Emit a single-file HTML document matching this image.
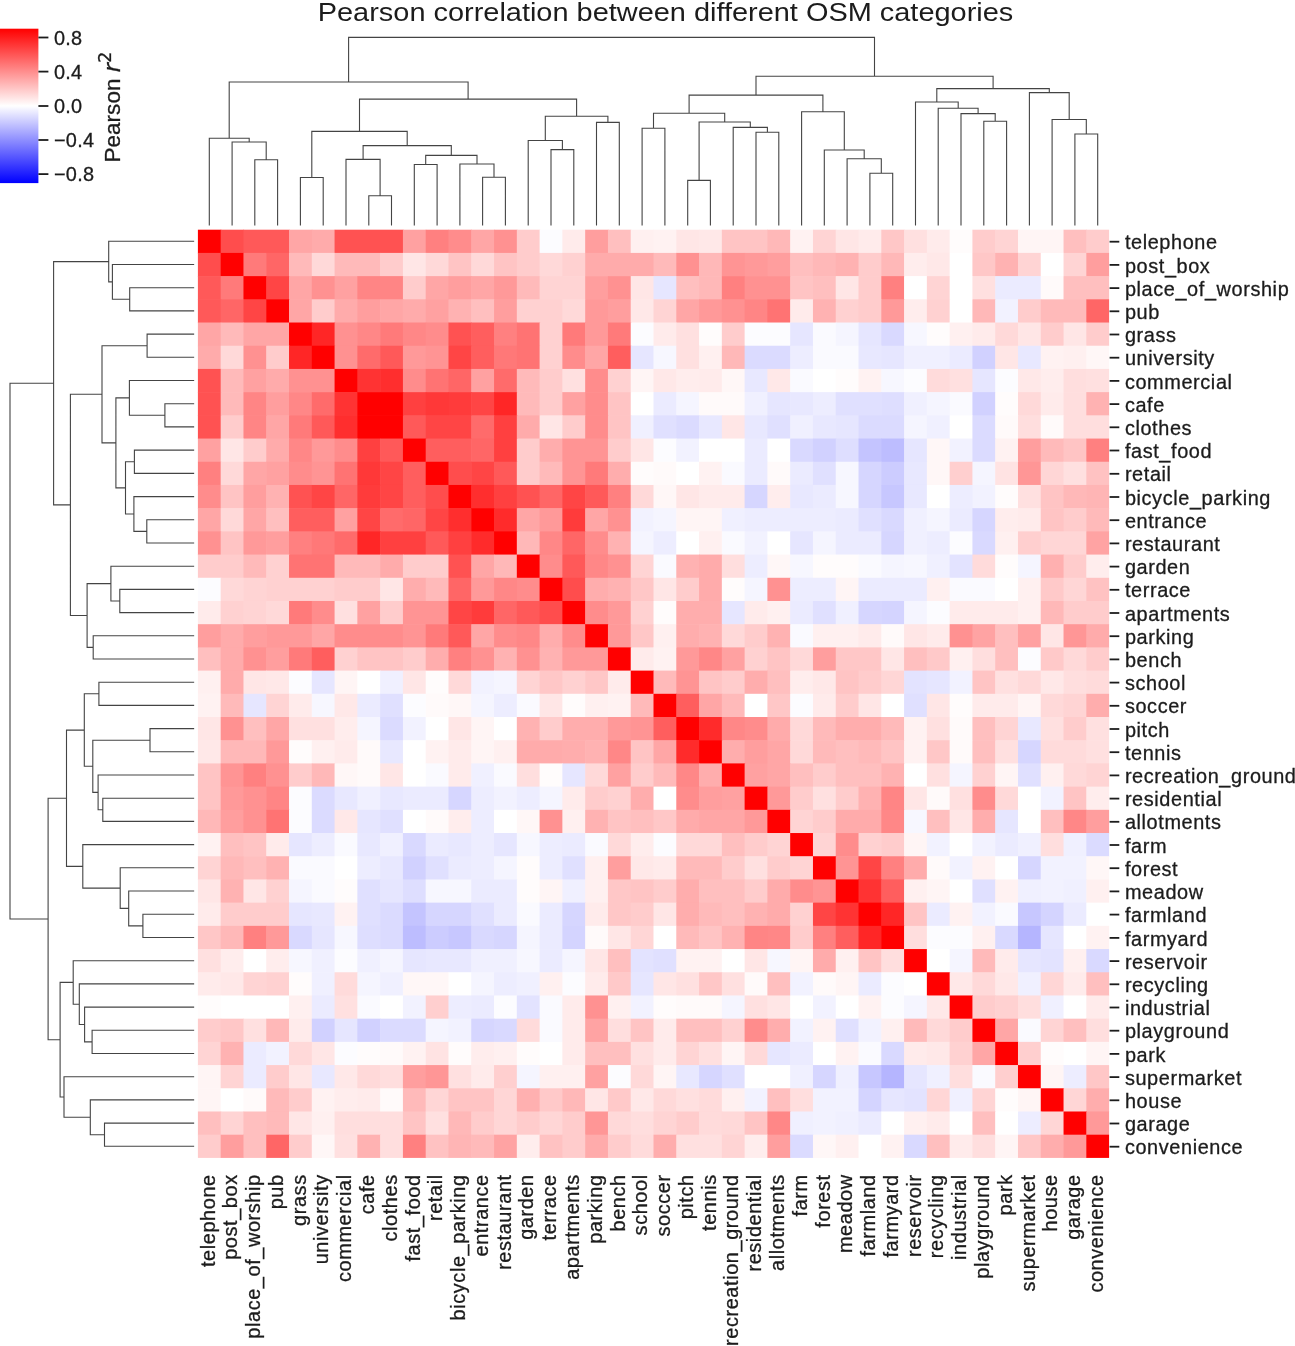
<!DOCTYPE html>
<html><head><meta charset="utf-8"><title>Pearson correlation between different OSM categories</title>
<style>html,body{margin:0;padding:0;background:#fff}svg{display:block}text{font-family:"Liberation Sans",Arial,sans-serif;fill:#1c1c1c;stroke:#1c1c1c;stroke-width:0.3px}</style></head><body>
<svg width="1295" height="1346" viewBox="0 0 1295 1346">
<rect width="1295" height="1346" fill="#fff"/>
<defs><linearGradient id="cb" x1="0" y1="0" x2="0" y2="1"><stop offset="0" stop-color="#f00"/><stop offset="0.5" stop-color="#fff"/><stop offset="1" stop-color="#00f"/></linearGradient></defs>
<text x="665.5" y="21.0" style="stroke-width:0" font-size="26.7" text-anchor="middle" textLength="695.5" lengthAdjust="spacingAndGlyphs">Pearson correlation between different OSM categories</text>
<rect x="0" y="28.7" width="38.4" height="154.4" fill="url(#cb)"/>
<g stroke="#1c1c1c" stroke-width="1.8">
<line x1="38.4" x2="48.4" y1="37.5" y2="37.5"/>
<line x1="38.4" x2="48.4" y1="71.6" y2="71.6"/>
<line x1="38.4" x2="48.4" y1="106.0" y2="106.0"/>
<line x1="38.4" x2="48.4" y1="140.0" y2="140.0"/>
<line x1="38.4" x2="48.4" y1="174.1" y2="174.1"/>
</g>
<g font-size="19.9" letter-spacing="0.25">
<text x="54" y="44.5">0.8</text>
<text x="54" y="78.6">0.4</text>
<text x="54" y="113.0">0.0</text>
<text x="54" y="147.0">−0.4</text>
<text x="54" y="181.1">−0.8</text>
</g>
<text transform="translate(119.6,162.6) rotate(-90)" font-size="22.4" letter-spacing="0.1">Pearson <tspan font-family="DejaVu Sans" font-style="italic">r</tspan><tspan font-family="DejaVu Sans" font-size="17.4" dy="-8.9">2</tspan></text>
<g>
<rect x="197.90" y="229.70" width="23.38" height="23.81" fill="#ff0000"/>
<rect x="220.68" y="229.70" width="23.38" height="23.81" fill="#ff4d4d"/>
<rect x="243.46" y="229.70" width="46.16" height="23.81" fill="#ff5959"/>
<rect x="289.02" y="229.70" width="23.38" height="23.81" fill="#ffa6a6"/>
<rect x="311.80" y="229.70" width="23.38" height="23.81" fill="#ffabab"/>
<rect x="334.58" y="229.70" width="68.94" height="23.81" fill="#ff5252"/>
<rect x="402.92" y="229.70" width="23.38" height="23.81" fill="#ffa1a1"/>
<rect x="425.70" y="229.70" width="23.38" height="23.81" fill="#ff8080"/>
<rect x="448.48" y="229.70" width="23.38" height="23.81" fill="#ff8c8c"/>
<rect x="471.26" y="229.70" width="23.38" height="23.81" fill="#ffa6a6"/>
<rect x="494.04" y="229.70" width="23.38" height="23.81" fill="#ff9191"/>
<rect x="516.82" y="229.70" width="23.38" height="23.81" fill="#ffcccc"/>
<rect x="539.60" y="229.70" width="23.38" height="23.81" fill="#fcfcff"/>
<rect x="562.38" y="229.70" width="23.38" height="23.81" fill="#ffebeb"/>
<rect x="585.16" y="229.70" width="23.38" height="23.81" fill="#ff9e9e"/>
<rect x="607.94" y="229.70" width="23.38" height="23.81" fill="#ffbfbf"/>
<rect x="630.72" y="229.70" width="23.38" height="23.81" fill="#fff0f0"/>
<rect x="653.50" y="229.70" width="23.38" height="23.81" fill="#fff2f2"/>
<rect x="676.28" y="229.70" width="23.38" height="23.81" fill="#ffe6e6"/>
<rect x="699.06" y="229.70" width="23.38" height="23.81" fill="#ffe8e8"/>
<rect x="721.84" y="229.70" width="46.16" height="23.81" fill="#ffc4c4"/>
<rect x="767.40" y="229.70" width="23.38" height="23.81" fill="#ffb8b8"/>
<rect x="790.18" y="229.70" width="23.38" height="23.81" fill="#fff2f2"/>
<rect x="812.96" y="229.70" width="23.38" height="23.81" fill="#ffd4d4"/>
<rect x="835.74" y="229.70" width="23.38" height="23.81" fill="#ffe6e6"/>
<rect x="858.52" y="229.70" width="23.38" height="23.81" fill="#ffebeb"/>
<rect x="881.30" y="229.70" width="23.38" height="23.81" fill="#ffc7c7"/>
<rect x="904.08" y="229.70" width="23.38" height="23.81" fill="#ffe0e0"/>
<rect x="926.86" y="229.70" width="23.38" height="23.81" fill="#ffebeb"/>
<rect x="949.64" y="229.70" width="23.38" height="23.81" fill="#fffcfc"/>
<rect x="972.42" y="229.70" width="23.38" height="23.81" fill="#ffcccc"/>
<rect x="995.20" y="229.70" width="23.38" height="23.81" fill="#ffd4d4"/>
<rect x="1017.98" y="229.70" width="46.16" height="23.81" fill="#fff5f5"/>
<rect x="1063.54" y="229.70" width="23.38" height="23.81" fill="#ffbfbf"/>
<rect x="1086.32" y="229.70" width="22.78" height="23.81" fill="#ffcccc"/>
<rect x="197.90" y="252.91" width="23.38" height="23.81" fill="#ff4d4d"/>
<rect x="220.68" y="252.91" width="23.38" height="23.81" fill="#ff0000"/>
<rect x="243.46" y="252.91" width="23.38" height="23.81" fill="#ff7a7a"/>
<rect x="266.24" y="252.91" width="23.38" height="23.81" fill="#ff6666"/>
<rect x="289.02" y="252.91" width="23.38" height="23.81" fill="#ffbaba"/>
<rect x="311.80" y="252.91" width="23.38" height="23.81" fill="#ffd9d9"/>
<rect x="334.58" y="252.91" width="46.16" height="23.81" fill="#ffbaba"/>
<rect x="380.14" y="252.91" width="23.38" height="23.81" fill="#ffcccc"/>
<rect x="402.92" y="252.91" width="23.38" height="23.81" fill="#ffe6e6"/>
<rect x="425.70" y="252.91" width="23.38" height="23.81" fill="#ffd9d9"/>
<rect x="448.48" y="252.91" width="23.38" height="23.81" fill="#ffc4c4"/>
<rect x="471.26" y="252.91" width="23.38" height="23.81" fill="#ffd9d9"/>
<rect x="494.04" y="252.91" width="23.38" height="23.81" fill="#ffc4c4"/>
<rect x="516.82" y="252.91" width="23.38" height="23.81" fill="#ffcccc"/>
<rect x="539.60" y="252.91" width="23.38" height="23.81" fill="#ffd9d9"/>
<rect x="562.38" y="252.91" width="23.38" height="23.81" fill="#ffd1d1"/>
<rect x="585.16" y="252.91" width="68.94" height="23.81" fill="#ffabab"/>
<rect x="653.50" y="252.91" width="23.38" height="23.81" fill="#ffbaba"/>
<rect x="676.28" y="252.91" width="23.38" height="23.81" fill="#ff9191"/>
<rect x="699.06" y="252.91" width="23.38" height="23.81" fill="#ffb8b8"/>
<rect x="721.84" y="252.91" width="23.38" height="23.81" fill="#ff9494"/>
<rect x="744.62" y="252.91" width="23.38" height="23.81" fill="#ff9999"/>
<rect x="767.40" y="252.91" width="23.38" height="23.81" fill="#ff9e9e"/>
<rect x="790.18" y="252.91" width="23.38" height="23.81" fill="#ffbfbf"/>
<rect x="812.96" y="252.91" width="23.38" height="23.81" fill="#ffb8b8"/>
<rect x="835.74" y="252.91" width="23.38" height="23.81" fill="#ffb2b2"/>
<rect x="858.52" y="252.91" width="23.38" height="23.81" fill="#ffcccc"/>
<rect x="881.30" y="252.91" width="23.38" height="23.81" fill="#ffb8b8"/>
<rect x="904.08" y="252.91" width="23.38" height="23.81" fill="#ffeded"/>
<rect x="926.86" y="252.91" width="23.38" height="23.81" fill="#ffe8e8"/>
<rect x="949.64" y="252.91" width="23.38" height="23.81" fill="#ffffff"/>
<rect x="972.42" y="252.91" width="23.38" height="23.81" fill="#ffc7c7"/>
<rect x="995.20" y="252.91" width="23.38" height="23.81" fill="#ffb2b2"/>
<rect x="1017.98" y="252.91" width="23.38" height="23.81" fill="#ffd4d4"/>
<rect x="1040.76" y="252.91" width="23.38" height="23.81" fill="#ffffff"/>
<rect x="1063.54" y="252.91" width="23.38" height="23.81" fill="#ffd4d4"/>
<rect x="1086.32" y="252.91" width="22.78" height="23.81" fill="#ff9e9e"/>
<rect x="197.90" y="276.11" width="23.38" height="23.81" fill="#ff5959"/>
<rect x="220.68" y="276.11" width="23.38" height="23.81" fill="#ff7a7a"/>
<rect x="243.46" y="276.11" width="23.38" height="23.81" fill="#ff0000"/>
<rect x="266.24" y="276.11" width="23.38" height="23.81" fill="#ff4545"/>
<rect x="289.02" y="276.11" width="23.38" height="23.81" fill="#ffa6a6"/>
<rect x="311.80" y="276.11" width="23.38" height="23.81" fill="#ff9191"/>
<rect x="334.58" y="276.11" width="23.38" height="23.81" fill="#ffa1a1"/>
<rect x="357.36" y="276.11" width="46.16" height="23.81" fill="#ff8585"/>
<rect x="402.92" y="276.11" width="23.38" height="23.81" fill="#ffcccc"/>
<rect x="425.70" y="276.11" width="23.38" height="23.81" fill="#ffa6a6"/>
<rect x="448.48" y="276.11" width="23.38" height="23.81" fill="#ff9e9e"/>
<rect x="471.26" y="276.11" width="23.38" height="23.81" fill="#ffa6a6"/>
<rect x="494.04" y="276.11" width="23.38" height="23.81" fill="#ff9999"/>
<rect x="516.82" y="276.11" width="23.38" height="23.81" fill="#ffbaba"/>
<rect x="539.60" y="276.11" width="46.16" height="23.81" fill="#ffd4d4"/>
<rect x="585.16" y="276.11" width="23.38" height="23.81" fill="#ff9e9e"/>
<rect x="607.94" y="276.11" width="23.38" height="23.81" fill="#ff9191"/>
<rect x="630.72" y="276.11" width="23.38" height="23.81" fill="#ffe6e6"/>
<rect x="653.50" y="276.11" width="23.38" height="23.81" fill="#e6e6ff"/>
<rect x="676.28" y="276.11" width="23.38" height="23.81" fill="#ffbfbf"/>
<rect x="699.06" y="276.11" width="23.38" height="23.81" fill="#ffb8b8"/>
<rect x="721.84" y="276.11" width="23.38" height="23.81" fill="#ff8080"/>
<rect x="744.62" y="276.11" width="46.16" height="23.81" fill="#ff9191"/>
<rect x="790.18" y="276.11" width="23.38" height="23.81" fill="#ffc4c4"/>
<rect x="812.96" y="276.11" width="23.38" height="23.81" fill="#ffbfbf"/>
<rect x="835.74" y="276.11" width="23.38" height="23.81" fill="#ffe6e6"/>
<rect x="858.52" y="276.11" width="23.38" height="23.81" fill="#ffcccc"/>
<rect x="881.30" y="276.11" width="23.38" height="23.81" fill="#ff8080"/>
<rect x="904.08" y="276.11" width="23.38" height="23.81" fill="#ffffff"/>
<rect x="926.86" y="276.11" width="23.38" height="23.81" fill="#ffd4d4"/>
<rect x="949.64" y="276.11" width="23.38" height="23.81" fill="#ffffff"/>
<rect x="972.42" y="276.11" width="23.38" height="23.81" fill="#ffe0e0"/>
<rect x="995.20" y="276.11" width="46.16" height="23.81" fill="#ebebff"/>
<rect x="1040.76" y="276.11" width="23.38" height="23.81" fill="#fffafa"/>
<rect x="1063.54" y="276.11" width="45.56" height="23.81" fill="#ffbfbf"/>
<rect x="197.90" y="299.31" width="23.38" height="23.81" fill="#ff5959"/>
<rect x="220.68" y="299.31" width="23.38" height="23.81" fill="#ff6666"/>
<rect x="243.46" y="299.31" width="23.38" height="23.81" fill="#ff4545"/>
<rect x="266.24" y="299.31" width="23.38" height="23.81" fill="#ff0000"/>
<rect x="289.02" y="299.31" width="23.38" height="23.81" fill="#ffa6a6"/>
<rect x="311.80" y="299.31" width="23.38" height="23.81" fill="#ffcccc"/>
<rect x="334.58" y="299.31" width="23.38" height="23.81" fill="#ffabab"/>
<rect x="357.36" y="299.31" width="23.38" height="23.81" fill="#ff9e9e"/>
<rect x="380.14" y="299.31" width="23.38" height="23.81" fill="#ffa6a6"/>
<rect x="402.92" y="299.31" width="23.38" height="23.81" fill="#ffabab"/>
<rect x="425.70" y="299.31" width="23.38" height="23.81" fill="#ffa1a1"/>
<rect x="448.48" y="299.31" width="23.38" height="23.81" fill="#ffb2b2"/>
<rect x="471.26" y="299.31" width="23.38" height="23.81" fill="#ffbfbf"/>
<rect x="494.04" y="299.31" width="23.38" height="23.81" fill="#ff9e9e"/>
<rect x="516.82" y="299.31" width="46.16" height="23.81" fill="#ffd1d1"/>
<rect x="562.38" y="299.31" width="23.38" height="23.81" fill="#ffd9d9"/>
<rect x="585.16" y="299.31" width="23.38" height="23.81" fill="#ff9999"/>
<rect x="607.94" y="299.31" width="23.38" height="23.81" fill="#ff9e9e"/>
<rect x="630.72" y="299.31" width="23.38" height="23.81" fill="#ffe8e8"/>
<rect x="653.50" y="299.31" width="23.38" height="23.81" fill="#ffd4d4"/>
<rect x="676.28" y="299.31" width="23.38" height="23.81" fill="#ffa6a6"/>
<rect x="699.06" y="299.31" width="23.38" height="23.81" fill="#ff9999"/>
<rect x="721.84" y="299.31" width="23.38" height="23.81" fill="#ff9191"/>
<rect x="744.62" y="299.31" width="23.38" height="23.81" fill="#ff8585"/>
<rect x="767.40" y="299.31" width="23.38" height="23.81" fill="#ff7373"/>
<rect x="790.18" y="299.31" width="23.38" height="23.81" fill="#ffebeb"/>
<rect x="812.96" y="299.31" width="23.38" height="23.81" fill="#ffb2b2"/>
<rect x="835.74" y="299.31" width="23.38" height="23.81" fill="#ffd1d1"/>
<rect x="858.52" y="299.31" width="23.38" height="23.81" fill="#ffcccc"/>
<rect x="881.30" y="299.31" width="23.38" height="23.81" fill="#ff9999"/>
<rect x="904.08" y="299.31" width="23.38" height="23.81" fill="#ffeded"/>
<rect x="926.86" y="299.31" width="23.38" height="23.81" fill="#ffd1d1"/>
<rect x="949.64" y="299.31" width="23.38" height="23.81" fill="#ffffff"/>
<rect x="972.42" y="299.31" width="23.38" height="23.81" fill="#ffb8b8"/>
<rect x="995.20" y="299.31" width="23.38" height="23.81" fill="#f2f2ff"/>
<rect x="1017.98" y="299.31" width="23.38" height="23.81" fill="#ffcccc"/>
<rect x="1040.76" y="299.31" width="46.16" height="23.81" fill="#ffbaba"/>
<rect x="1086.32" y="299.31" width="22.78" height="23.81" fill="#ff6666"/>
<rect x="197.90" y="322.52" width="23.38" height="23.81" fill="#ffa6a6"/>
<rect x="220.68" y="322.52" width="23.38" height="23.81" fill="#ffbaba"/>
<rect x="243.46" y="322.52" width="46.16" height="23.81" fill="#ffa6a6"/>
<rect x="289.02" y="322.52" width="23.38" height="23.81" fill="#ff0000"/>
<rect x="311.80" y="322.52" width="23.38" height="23.81" fill="#ff2626"/>
<rect x="334.58" y="322.52" width="23.38" height="23.81" fill="#ff9191"/>
<rect x="357.36" y="322.52" width="23.38" height="23.81" fill="#ff8787"/>
<rect x="380.14" y="322.52" width="23.38" height="23.81" fill="#ff7a7a"/>
<rect x="402.92" y="322.52" width="23.38" height="23.81" fill="#ff8787"/>
<rect x="425.70" y="322.52" width="23.38" height="23.81" fill="#ff8c8c"/>
<rect x="448.48" y="322.52" width="23.38" height="23.81" fill="#ff5252"/>
<rect x="471.26" y="322.52" width="23.38" height="23.81" fill="#ff5e5e"/>
<rect x="494.04" y="322.52" width="23.38" height="23.81" fill="#ff8080"/>
<rect x="516.82" y="322.52" width="23.38" height="23.81" fill="#ff7373"/>
<rect x="539.60" y="322.52" width="23.38" height="23.81" fill="#ffd1d1"/>
<rect x="562.38" y="322.52" width="23.38" height="23.81" fill="#ff7a7a"/>
<rect x="585.16" y="322.52" width="23.38" height="23.81" fill="#ff9999"/>
<rect x="607.94" y="322.52" width="23.38" height="23.81" fill="#ff7a7a"/>
<rect x="630.72" y="322.52" width="23.38" height="23.81" fill="#fcfcff"/>
<rect x="653.50" y="322.52" width="23.38" height="23.81" fill="#ffebeb"/>
<rect x="676.28" y="322.52" width="23.38" height="23.81" fill="#ffe0e0"/>
<rect x="699.06" y="322.52" width="23.38" height="23.81" fill="#fffcfc"/>
<rect x="721.84" y="322.52" width="23.38" height="23.81" fill="#ffcccc"/>
<rect x="744.62" y="322.52" width="46.16" height="23.81" fill="#fcfcff"/>
<rect x="790.18" y="322.52" width="23.38" height="23.81" fill="#e6e6ff"/>
<rect x="812.96" y="322.52" width="23.38" height="23.81" fill="#fafaff"/>
<rect x="835.74" y="322.52" width="23.38" height="23.81" fill="#f5f5ff"/>
<rect x="858.52" y="322.52" width="23.38" height="23.81" fill="#e6e6ff"/>
<rect x="881.30" y="322.52" width="23.38" height="23.81" fill="#d9d9ff"/>
<rect x="904.08" y="322.52" width="23.38" height="23.81" fill="#f7f7ff"/>
<rect x="926.86" y="322.52" width="23.38" height="23.81" fill="#fffcfc"/>
<rect x="949.64" y="322.52" width="23.38" height="23.81" fill="#fff0f0"/>
<rect x="972.42" y="322.52" width="23.38" height="23.81" fill="#ffebeb"/>
<rect x="995.20" y="322.52" width="23.38" height="23.81" fill="#ffd9d9"/>
<rect x="1017.98" y="322.52" width="23.38" height="23.81" fill="#ffe6e6"/>
<rect x="1040.76" y="322.52" width="23.38" height="23.81" fill="#ffcccc"/>
<rect x="1063.54" y="322.52" width="23.38" height="23.81" fill="#ffe6e6"/>
<rect x="1086.32" y="322.52" width="22.78" height="23.81" fill="#ffcccc"/>
<rect x="197.90" y="345.73" width="23.38" height="23.81" fill="#ffabab"/>
<rect x="220.68" y="345.73" width="23.38" height="23.81" fill="#ffd9d9"/>
<rect x="243.46" y="345.73" width="23.38" height="23.81" fill="#ff9191"/>
<rect x="266.24" y="345.73" width="23.38" height="23.81" fill="#ffcccc"/>
<rect x="289.02" y="345.73" width="23.38" height="23.81" fill="#ff2626"/>
<rect x="311.80" y="345.73" width="23.38" height="23.81" fill="#ff0000"/>
<rect x="334.58" y="345.73" width="23.38" height="23.81" fill="#ff9191"/>
<rect x="357.36" y="345.73" width="23.38" height="23.81" fill="#ff6b6b"/>
<rect x="380.14" y="345.73" width="23.38" height="23.81" fill="#ff5959"/>
<rect x="402.92" y="345.73" width="23.38" height="23.81" fill="#ff9999"/>
<rect x="425.70" y="345.73" width="23.38" height="23.81" fill="#ff9494"/>
<rect x="448.48" y="345.73" width="23.38" height="23.81" fill="#ff4545"/>
<rect x="471.26" y="345.73" width="23.38" height="23.81" fill="#ff5e5e"/>
<rect x="494.04" y="345.73" width="23.38" height="23.81" fill="#ff7878"/>
<rect x="516.82" y="345.73" width="23.38" height="23.81" fill="#ff7373"/>
<rect x="539.60" y="345.73" width="23.38" height="23.81" fill="#ffd1d1"/>
<rect x="562.38" y="345.73" width="23.38" height="23.81" fill="#ff8c8c"/>
<rect x="585.16" y="345.73" width="23.38" height="23.81" fill="#ffa6a6"/>
<rect x="607.94" y="345.73" width="23.38" height="23.81" fill="#ff5e5e"/>
<rect x="630.72" y="345.73" width="23.38" height="23.81" fill="#e6e6ff"/>
<rect x="653.50" y="345.73" width="23.38" height="23.81" fill="#f7f7ff"/>
<rect x="676.28" y="345.73" width="23.38" height="23.81" fill="#ffe0e0"/>
<rect x="699.06" y="345.73" width="23.38" height="23.81" fill="#fff0f0"/>
<rect x="721.84" y="345.73" width="23.38" height="23.81" fill="#ffb8b8"/>
<rect x="744.62" y="345.73" width="46.16" height="23.81" fill="#dbdbff"/>
<rect x="790.18" y="345.73" width="23.38" height="23.81" fill="#ededff"/>
<rect x="812.96" y="345.73" width="46.16" height="23.81" fill="#fafaff"/>
<rect x="858.52" y="345.73" width="23.38" height="23.81" fill="#e8e8ff"/>
<rect x="881.30" y="345.73" width="23.38" height="23.81" fill="#e6e6ff"/>
<rect x="904.08" y="345.73" width="46.16" height="23.81" fill="#f0f0ff"/>
<rect x="949.64" y="345.73" width="23.38" height="23.81" fill="#ebebff"/>
<rect x="972.42" y="345.73" width="23.38" height="23.81" fill="#d1d1ff"/>
<rect x="995.20" y="345.73" width="23.38" height="23.81" fill="#ffe6e6"/>
<rect x="1017.98" y="345.73" width="23.38" height="23.81" fill="#e8e8ff"/>
<rect x="1040.76" y="345.73" width="23.38" height="23.81" fill="#fff2f2"/>
<rect x="1063.54" y="345.73" width="23.38" height="23.81" fill="#fff0f0"/>
<rect x="1086.32" y="345.73" width="22.78" height="23.81" fill="#fff7f7"/>
<rect x="197.90" y="368.93" width="23.38" height="23.81" fill="#ff5252"/>
<rect x="220.68" y="368.93" width="23.38" height="23.81" fill="#ffbaba"/>
<rect x="243.46" y="368.93" width="23.38" height="23.81" fill="#ffa1a1"/>
<rect x="266.24" y="368.93" width="23.38" height="23.81" fill="#ffabab"/>
<rect x="289.02" y="368.93" width="46.16" height="23.81" fill="#ff9191"/>
<rect x="334.58" y="368.93" width="23.38" height="23.81" fill="#ff0000"/>
<rect x="357.36" y="368.93" width="23.38" height="23.81" fill="#ff3333"/>
<rect x="380.14" y="368.93" width="23.38" height="23.81" fill="#ff2e2e"/>
<rect x="402.92" y="368.93" width="23.38" height="23.81" fill="#ff8c8c"/>
<rect x="425.70" y="368.93" width="23.38" height="23.81" fill="#ff7373"/>
<rect x="448.48" y="368.93" width="23.38" height="23.81" fill="#ff6666"/>
<rect x="471.26" y="368.93" width="23.38" height="23.81" fill="#ffa1a1"/>
<rect x="494.04" y="368.93" width="23.38" height="23.81" fill="#ff6b6b"/>
<rect x="516.82" y="368.93" width="23.38" height="23.81" fill="#ffbaba"/>
<rect x="539.60" y="368.93" width="23.38" height="23.81" fill="#ffcccc"/>
<rect x="562.38" y="368.93" width="23.38" height="23.81" fill="#ffe0e0"/>
<rect x="585.16" y="368.93" width="23.38" height="23.81" fill="#ff8c8c"/>
<rect x="607.94" y="368.93" width="23.38" height="23.81" fill="#ffd1d1"/>
<rect x="630.72" y="368.93" width="23.38" height="23.81" fill="#fff5f5"/>
<rect x="653.50" y="368.93" width="23.38" height="23.81" fill="#ffe8e8"/>
<rect x="676.28" y="368.93" width="23.38" height="23.81" fill="#ffeded"/>
<rect x="699.06" y="368.93" width="23.38" height="23.81" fill="#ffebeb"/>
<rect x="721.84" y="368.93" width="23.38" height="23.81" fill="#fff7f7"/>
<rect x="744.62" y="368.93" width="23.38" height="23.81" fill="#e8e8ff"/>
<rect x="767.40" y="368.93" width="23.38" height="23.81" fill="#ffe8e8"/>
<rect x="790.18" y="368.93" width="23.38" height="23.81" fill="#fafaff"/>
<rect x="812.96" y="368.93" width="23.38" height="23.81" fill="#ffffff"/>
<rect x="835.74" y="368.93" width="23.38" height="23.81" fill="#fffcfc"/>
<rect x="858.52" y="368.93" width="23.38" height="23.81" fill="#fff2f2"/>
<rect x="881.30" y="368.93" width="23.38" height="23.81" fill="#f7f7ff"/>
<rect x="904.08" y="368.93" width="23.38" height="23.81" fill="#fcfcff"/>
<rect x="926.86" y="368.93" width="23.38" height="23.81" fill="#ffdbdb"/>
<rect x="949.64" y="368.93" width="23.38" height="23.81" fill="#ffe0e0"/>
<rect x="972.42" y="368.93" width="23.38" height="23.81" fill="#e6e6ff"/>
<rect x="995.20" y="368.93" width="23.38" height="23.81" fill="#fcfcff"/>
<rect x="1017.98" y="368.93" width="23.38" height="23.81" fill="#ffe8e8"/>
<rect x="1040.76" y="368.93" width="23.38" height="23.81" fill="#ffeded"/>
<rect x="1063.54" y="368.93" width="23.38" height="23.81" fill="#ffdede"/>
<rect x="1086.32" y="368.93" width="22.78" height="23.81" fill="#ffe0e0"/>
<rect x="197.90" y="392.13" width="23.38" height="23.81" fill="#ff5252"/>
<rect x="220.68" y="392.13" width="23.38" height="23.81" fill="#ffbaba"/>
<rect x="243.46" y="392.13" width="23.38" height="23.81" fill="#ff8585"/>
<rect x="266.24" y="392.13" width="23.38" height="23.81" fill="#ff9e9e"/>
<rect x="289.02" y="392.13" width="23.38" height="23.81" fill="#ff8787"/>
<rect x="311.80" y="392.13" width="23.38" height="23.81" fill="#ff6b6b"/>
<rect x="334.58" y="392.13" width="23.38" height="23.81" fill="#ff3333"/>
<rect x="357.36" y="392.13" width="46.16" height="23.81" fill="#ff0000"/>
<rect x="402.92" y="392.13" width="23.38" height="23.81" fill="#ff4040"/>
<rect x="425.70" y="392.13" width="23.38" height="23.81" fill="#ff3838"/>
<rect x="448.48" y="392.13" width="23.38" height="23.81" fill="#ff3b3b"/>
<rect x="471.26" y="392.13" width="23.38" height="23.81" fill="#ff4545"/>
<rect x="494.04" y="392.13" width="23.38" height="23.81" fill="#ff2626"/>
<rect x="516.82" y="392.13" width="23.38" height="23.81" fill="#ffbaba"/>
<rect x="539.60" y="392.13" width="23.38" height="23.81" fill="#ffcccc"/>
<rect x="562.38" y="392.13" width="23.38" height="23.81" fill="#ffa1a1"/>
<rect x="585.16" y="392.13" width="23.38" height="23.81" fill="#ff8c8c"/>
<rect x="607.94" y="392.13" width="23.38" height="23.81" fill="#ffc4c4"/>
<rect x="630.72" y="392.13" width="23.38" height="23.81" fill="#ffffff"/>
<rect x="653.50" y="392.13" width="23.38" height="23.81" fill="#ebebff"/>
<rect x="676.28" y="392.13" width="23.38" height="23.81" fill="#f5f5ff"/>
<rect x="699.06" y="392.13" width="46.16" height="23.81" fill="#fffafa"/>
<rect x="744.62" y="392.13" width="23.38" height="23.81" fill="#f0f0ff"/>
<rect x="767.40" y="392.13" width="23.38" height="23.81" fill="#e6e6ff"/>
<rect x="790.18" y="392.13" width="23.38" height="23.81" fill="#e8e8ff"/>
<rect x="812.96" y="392.13" width="23.38" height="23.81" fill="#ededff"/>
<rect x="835.74" y="392.13" width="46.16" height="23.81" fill="#e0e0ff"/>
<rect x="881.30" y="392.13" width="23.38" height="23.81" fill="#dedeff"/>
<rect x="904.08" y="392.13" width="23.38" height="23.81" fill="#f0f0ff"/>
<rect x="926.86" y="392.13" width="23.38" height="23.81" fill="#f5f5ff"/>
<rect x="949.64" y="392.13" width="23.38" height="23.81" fill="#fafaff"/>
<rect x="972.42" y="392.13" width="23.38" height="23.81" fill="#d1d1ff"/>
<rect x="995.20" y="392.13" width="23.38" height="23.81" fill="#fffcfc"/>
<rect x="1017.98" y="392.13" width="23.38" height="23.81" fill="#ffd9d9"/>
<rect x="1040.76" y="392.13" width="23.38" height="23.81" fill="#ffebeb"/>
<rect x="1063.54" y="392.13" width="23.38" height="23.81" fill="#ffdede"/>
<rect x="1086.32" y="392.13" width="22.78" height="23.81" fill="#ffb2b2"/>
<rect x="197.90" y="415.34" width="23.38" height="23.81" fill="#ff5252"/>
<rect x="220.68" y="415.34" width="23.38" height="23.81" fill="#ffcccc"/>
<rect x="243.46" y="415.34" width="23.38" height="23.81" fill="#ff8585"/>
<rect x="266.24" y="415.34" width="23.38" height="23.81" fill="#ffa6a6"/>
<rect x="289.02" y="415.34" width="23.38" height="23.81" fill="#ff7a7a"/>
<rect x="311.80" y="415.34" width="23.38" height="23.81" fill="#ff5959"/>
<rect x="334.58" y="415.34" width="23.38" height="23.81" fill="#ff2e2e"/>
<rect x="357.36" y="415.34" width="46.16" height="23.81" fill="#ff0000"/>
<rect x="402.92" y="415.34" width="23.38" height="23.81" fill="#ff5959"/>
<rect x="425.70" y="415.34" width="46.16" height="23.81" fill="#ff4545"/>
<rect x="471.26" y="415.34" width="23.38" height="23.81" fill="#ff6b6b"/>
<rect x="494.04" y="415.34" width="23.38" height="23.81" fill="#ff4040"/>
<rect x="516.82" y="415.34" width="23.38" height="23.81" fill="#ffabab"/>
<rect x="539.60" y="415.34" width="23.38" height="23.81" fill="#ffe6e6"/>
<rect x="562.38" y="415.34" width="23.38" height="23.81" fill="#ffcccc"/>
<rect x="585.16" y="415.34" width="23.38" height="23.81" fill="#ff8c8c"/>
<rect x="607.94" y="415.34" width="23.38" height="23.81" fill="#ffc4c4"/>
<rect x="630.72" y="415.34" width="23.38" height="23.81" fill="#f0f0ff"/>
<rect x="653.50" y="415.34" width="23.38" height="23.81" fill="#e0e0ff"/>
<rect x="676.28" y="415.34" width="23.38" height="23.81" fill="#dbdbff"/>
<rect x="699.06" y="415.34" width="23.38" height="23.81" fill="#e8e8ff"/>
<rect x="721.84" y="415.34" width="23.38" height="23.81" fill="#ffe6e6"/>
<rect x="744.62" y="415.34" width="23.38" height="23.81" fill="#e8e8ff"/>
<rect x="767.40" y="415.34" width="23.38" height="23.81" fill="#e0e0ff"/>
<rect x="790.18" y="415.34" width="23.38" height="23.81" fill="#f0f0ff"/>
<rect x="812.96" y="415.34" width="23.38" height="23.81" fill="#e8e8ff"/>
<rect x="835.74" y="415.34" width="23.38" height="23.81" fill="#e6e6ff"/>
<rect x="858.52" y="415.34" width="46.16" height="23.81" fill="#dbdbff"/>
<rect x="904.08" y="415.34" width="23.38" height="23.81" fill="#f5f5ff"/>
<rect x="926.86" y="415.34" width="23.38" height="23.81" fill="#f0f0ff"/>
<rect x="949.64" y="415.34" width="23.38" height="23.81" fill="#ffffff"/>
<rect x="972.42" y="415.34" width="23.38" height="23.81" fill="#dbdbff"/>
<rect x="995.20" y="415.34" width="23.38" height="23.81" fill="#fffafa"/>
<rect x="1017.98" y="415.34" width="23.38" height="23.81" fill="#ffdede"/>
<rect x="1040.76" y="415.34" width="23.38" height="23.81" fill="#fffafa"/>
<rect x="1063.54" y="415.34" width="45.56" height="23.81" fill="#ffdede"/>
<rect x="197.90" y="438.55" width="23.38" height="23.81" fill="#ffa1a1"/>
<rect x="220.68" y="438.55" width="23.38" height="23.81" fill="#ffe6e6"/>
<rect x="243.46" y="438.55" width="23.38" height="23.81" fill="#ffcccc"/>
<rect x="266.24" y="438.55" width="23.38" height="23.81" fill="#ffabab"/>
<rect x="289.02" y="438.55" width="23.38" height="23.81" fill="#ff8787"/>
<rect x="311.80" y="438.55" width="23.38" height="23.81" fill="#ff9999"/>
<rect x="334.58" y="438.55" width="23.38" height="23.81" fill="#ff8c8c"/>
<rect x="357.36" y="438.55" width="23.38" height="23.81" fill="#ff4040"/>
<rect x="380.14" y="438.55" width="23.38" height="23.81" fill="#ff5959"/>
<rect x="402.92" y="438.55" width="23.38" height="23.81" fill="#ff0000"/>
<rect x="425.70" y="438.55" width="46.16" height="23.81" fill="#ff5e5e"/>
<rect x="471.26" y="438.55" width="23.38" height="23.81" fill="#ff6666"/>
<rect x="494.04" y="438.55" width="23.38" height="23.81" fill="#ff4040"/>
<rect x="516.82" y="438.55" width="23.38" height="23.81" fill="#ffcccc"/>
<rect x="539.60" y="438.55" width="23.38" height="23.81" fill="#ffadad"/>
<rect x="562.38" y="438.55" width="46.16" height="23.81" fill="#ff9494"/>
<rect x="607.94" y="438.55" width="23.38" height="23.81" fill="#ffcccc"/>
<rect x="630.72" y="438.55" width="23.38" height="23.81" fill="#ffe6e6"/>
<rect x="653.50" y="438.55" width="23.38" height="23.81" fill="#fcfcff"/>
<rect x="676.28" y="438.55" width="23.38" height="23.81" fill="#f2f2ff"/>
<rect x="699.06" y="438.55" width="46.16" height="23.81" fill="#ffffff"/>
<rect x="744.62" y="438.55" width="23.38" height="23.81" fill="#ebebff"/>
<rect x="767.40" y="438.55" width="23.38" height="23.81" fill="#ffffff"/>
<rect x="790.18" y="438.55" width="23.38" height="23.81" fill="#d9d9ff"/>
<rect x="812.96" y="438.55" width="23.38" height="23.81" fill="#d1d1ff"/>
<rect x="835.74" y="438.55" width="23.38" height="23.81" fill="#dedeff"/>
<rect x="858.52" y="438.55" width="23.38" height="23.81" fill="#c4c4ff"/>
<rect x="881.30" y="438.55" width="23.38" height="23.81" fill="#bdbdff"/>
<rect x="904.08" y="438.55" width="23.38" height="23.81" fill="#e6e6ff"/>
<rect x="926.86" y="438.55" width="23.38" height="23.81" fill="#fff7f7"/>
<rect x="949.64" y="438.55" width="23.38" height="23.81" fill="#f2f2ff"/>
<rect x="972.42" y="438.55" width="23.38" height="23.81" fill="#dbdbff"/>
<rect x="995.20" y="438.55" width="23.38" height="23.81" fill="#fff2f2"/>
<rect x="1017.98" y="438.55" width="23.38" height="23.81" fill="#ff9e9e"/>
<rect x="1040.76" y="438.55" width="23.38" height="23.81" fill="#ffbaba"/>
<rect x="1063.54" y="438.55" width="23.38" height="23.81" fill="#ffc4c4"/>
<rect x="1086.32" y="438.55" width="22.78" height="23.81" fill="#ff8080"/>
<rect x="197.90" y="461.75" width="23.38" height="23.81" fill="#ff8080"/>
<rect x="220.68" y="461.75" width="23.38" height="23.81" fill="#ffd9d9"/>
<rect x="243.46" y="461.75" width="23.38" height="23.81" fill="#ffa6a6"/>
<rect x="266.24" y="461.75" width="23.38" height="23.81" fill="#ffa1a1"/>
<rect x="289.02" y="461.75" width="23.38" height="23.81" fill="#ff8c8c"/>
<rect x="311.80" y="461.75" width="23.38" height="23.81" fill="#ff9494"/>
<rect x="334.58" y="461.75" width="23.38" height="23.81" fill="#ff7373"/>
<rect x="357.36" y="461.75" width="23.38" height="23.81" fill="#ff3838"/>
<rect x="380.14" y="461.75" width="23.38" height="23.81" fill="#ff4545"/>
<rect x="402.92" y="461.75" width="23.38" height="23.81" fill="#ff5e5e"/>
<rect x="425.70" y="461.75" width="23.38" height="23.81" fill="#ff0000"/>
<rect x="448.48" y="461.75" width="23.38" height="23.81" fill="#ff4d4d"/>
<rect x="471.26" y="461.75" width="23.38" height="23.81" fill="#ff4545"/>
<rect x="494.04" y="461.75" width="23.38" height="23.81" fill="#ff5959"/>
<rect x="516.82" y="461.75" width="23.38" height="23.81" fill="#ffcccc"/>
<rect x="539.60" y="461.75" width="23.38" height="23.81" fill="#ffbaba"/>
<rect x="562.38" y="461.75" width="23.38" height="23.81" fill="#ff9494"/>
<rect x="585.16" y="461.75" width="23.38" height="23.81" fill="#ff7a7a"/>
<rect x="607.94" y="461.75" width="23.38" height="23.81" fill="#ffadad"/>
<rect x="630.72" y="461.75" width="23.38" height="23.81" fill="#fffcfc"/>
<rect x="653.50" y="461.75" width="23.38" height="23.81" fill="#fffafa"/>
<rect x="676.28" y="461.75" width="23.38" height="23.81" fill="#ffffff"/>
<rect x="699.06" y="461.75" width="23.38" height="23.81" fill="#fff2f2"/>
<rect x="721.84" y="461.75" width="23.38" height="23.81" fill="#fafaff"/>
<rect x="744.62" y="461.75" width="23.38" height="23.81" fill="#ebebff"/>
<rect x="767.40" y="461.75" width="23.38" height="23.81" fill="#fffafa"/>
<rect x="790.18" y="461.75" width="23.38" height="23.81" fill="#ebebff"/>
<rect x="812.96" y="461.75" width="23.38" height="23.81" fill="#e0e0ff"/>
<rect x="835.74" y="461.75" width="23.38" height="23.81" fill="#f7f7ff"/>
<rect x="858.52" y="461.75" width="23.38" height="23.81" fill="#d6d6ff"/>
<rect x="881.30" y="461.75" width="23.38" height="23.81" fill="#ccccff"/>
<rect x="904.08" y="461.75" width="23.38" height="23.81" fill="#e8e8ff"/>
<rect x="926.86" y="461.75" width="23.38" height="23.81" fill="#fff7f7"/>
<rect x="949.64" y="461.75" width="23.38" height="23.81" fill="#ffcfcf"/>
<rect x="972.42" y="461.75" width="23.38" height="23.81" fill="#f5f5ff"/>
<rect x="995.20" y="461.75" width="23.38" height="23.81" fill="#ffe3e3"/>
<rect x="1017.98" y="461.75" width="23.38" height="23.81" fill="#ff9696"/>
<rect x="1040.76" y="461.75" width="23.38" height="23.81" fill="#ffd6d6"/>
<rect x="1063.54" y="461.75" width="23.38" height="23.81" fill="#ffe0e0"/>
<rect x="1086.32" y="461.75" width="22.78" height="23.81" fill="#ffc2c2"/>
<rect x="197.90" y="484.96" width="23.38" height="23.81" fill="#ff8c8c"/>
<rect x="220.68" y="484.96" width="23.38" height="23.81" fill="#ffc4c4"/>
<rect x="243.46" y="484.96" width="23.38" height="23.81" fill="#ff9e9e"/>
<rect x="266.24" y="484.96" width="23.38" height="23.81" fill="#ffb2b2"/>
<rect x="289.02" y="484.96" width="23.38" height="23.81" fill="#ff5252"/>
<rect x="311.80" y="484.96" width="23.38" height="23.81" fill="#ff4545"/>
<rect x="334.58" y="484.96" width="23.38" height="23.81" fill="#ff6666"/>
<rect x="357.36" y="484.96" width="23.38" height="23.81" fill="#ff3b3b"/>
<rect x="380.14" y="484.96" width="23.38" height="23.81" fill="#ff4545"/>
<rect x="402.92" y="484.96" width="23.38" height="23.81" fill="#ff5e5e"/>
<rect x="425.70" y="484.96" width="23.38" height="23.81" fill="#ff4d4d"/>
<rect x="448.48" y="484.96" width="23.38" height="23.81" fill="#ff0000"/>
<rect x="471.26" y="484.96" width="23.38" height="23.81" fill="#ff2e2e"/>
<rect x="494.04" y="484.96" width="23.38" height="23.81" fill="#ff4040"/>
<rect x="516.82" y="484.96" width="23.38" height="23.81" fill="#ff5252"/>
<rect x="539.60" y="484.96" width="23.38" height="23.81" fill="#ff6666"/>
<rect x="562.38" y="484.96" width="23.38" height="23.81" fill="#ff4545"/>
<rect x="585.16" y="484.96" width="23.38" height="23.81" fill="#ff5959"/>
<rect x="607.94" y="484.96" width="23.38" height="23.81" fill="#ff8080"/>
<rect x="630.72" y="484.96" width="23.38" height="23.81" fill="#ffd9d9"/>
<rect x="653.50" y="484.96" width="23.38" height="23.81" fill="#fff7f7"/>
<rect x="676.28" y="484.96" width="23.38" height="23.81" fill="#ffe6e6"/>
<rect x="699.06" y="484.96" width="46.16" height="23.81" fill="#ffebeb"/>
<rect x="744.62" y="484.96" width="23.38" height="23.81" fill="#d6d6ff"/>
<rect x="767.40" y="484.96" width="23.38" height="23.81" fill="#ffeded"/>
<rect x="790.18" y="484.96" width="23.38" height="23.81" fill="#e8e8ff"/>
<rect x="812.96" y="484.96" width="23.38" height="23.81" fill="#ebebff"/>
<rect x="835.74" y="484.96" width="23.38" height="23.81" fill="#f7f7ff"/>
<rect x="858.52" y="484.96" width="23.38" height="23.81" fill="#d6d6ff"/>
<rect x="881.30" y="484.96" width="23.38" height="23.81" fill="#c7c7ff"/>
<rect x="904.08" y="484.96" width="23.38" height="23.81" fill="#e8e8ff"/>
<rect x="926.86" y="484.96" width="23.38" height="23.81" fill="#ffffff"/>
<rect x="949.64" y="484.96" width="23.38" height="23.81" fill="#ededff"/>
<rect x="972.42" y="484.96" width="23.38" height="23.81" fill="#f2f2ff"/>
<rect x="995.20" y="484.96" width="23.38" height="23.81" fill="#fffcfc"/>
<rect x="1017.98" y="484.96" width="23.38" height="23.81" fill="#ffe0e0"/>
<rect x="1040.76" y="484.96" width="23.38" height="23.81" fill="#ffc4c4"/>
<rect x="1063.54" y="484.96" width="23.38" height="23.81" fill="#ffb8b8"/>
<rect x="1086.32" y="484.96" width="22.78" height="23.81" fill="#ffb5b5"/>
<rect x="197.90" y="508.16" width="23.38" height="23.81" fill="#ffa6a6"/>
<rect x="220.68" y="508.16" width="23.38" height="23.81" fill="#ffd9d9"/>
<rect x="243.46" y="508.16" width="23.38" height="23.81" fill="#ffa6a6"/>
<rect x="266.24" y="508.16" width="23.38" height="23.81" fill="#ffbfbf"/>
<rect x="289.02" y="508.16" width="46.16" height="23.81" fill="#ff5e5e"/>
<rect x="334.58" y="508.16" width="23.38" height="23.81" fill="#ffa1a1"/>
<rect x="357.36" y="508.16" width="23.38" height="23.81" fill="#ff4545"/>
<rect x="380.14" y="508.16" width="23.38" height="23.81" fill="#ff6b6b"/>
<rect x="402.92" y="508.16" width="23.38" height="23.81" fill="#ff6666"/>
<rect x="425.70" y="508.16" width="23.38" height="23.81" fill="#ff4545"/>
<rect x="448.48" y="508.16" width="23.38" height="23.81" fill="#ff2e2e"/>
<rect x="471.26" y="508.16" width="23.38" height="23.81" fill="#ff0000"/>
<rect x="494.04" y="508.16" width="23.38" height="23.81" fill="#ff2b2b"/>
<rect x="516.82" y="508.16" width="23.38" height="23.81" fill="#ffa6a6"/>
<rect x="539.60" y="508.16" width="23.38" height="23.81" fill="#ff9999"/>
<rect x="562.38" y="508.16" width="23.38" height="23.81" fill="#ff3b3b"/>
<rect x="585.16" y="508.16" width="23.38" height="23.81" fill="#ffa6a6"/>
<rect x="607.94" y="508.16" width="23.38" height="23.81" fill="#ff9191"/>
<rect x="630.72" y="508.16" width="23.38" height="23.81" fill="#f2f2ff"/>
<rect x="653.50" y="508.16" width="23.38" height="23.81" fill="#f5f5ff"/>
<rect x="676.28" y="508.16" width="46.16" height="23.81" fill="#fff5f5"/>
<rect x="721.84" y="508.16" width="23.38" height="23.81" fill="#f0f0ff"/>
<rect x="744.62" y="508.16" width="91.72" height="23.81" fill="#ededff"/>
<rect x="835.74" y="508.16" width="23.38" height="23.81" fill="#ebebff"/>
<rect x="858.52" y="508.16" width="23.38" height="23.81" fill="#e0e0ff"/>
<rect x="881.30" y="508.16" width="23.38" height="23.81" fill="#d9d9ff"/>
<rect x="904.08" y="508.16" width="23.38" height="23.81" fill="#f0f0ff"/>
<rect x="926.86" y="508.16" width="23.38" height="23.81" fill="#f5f5ff"/>
<rect x="949.64" y="508.16" width="23.38" height="23.81" fill="#ebebff"/>
<rect x="972.42" y="508.16" width="23.38" height="23.81" fill="#d6d6ff"/>
<rect x="995.20" y="508.16" width="23.38" height="23.81" fill="#ffeded"/>
<rect x="1017.98" y="508.16" width="23.38" height="23.81" fill="#ffebeb"/>
<rect x="1040.76" y="508.16" width="23.38" height="23.81" fill="#ffc4c4"/>
<rect x="1063.54" y="508.16" width="23.38" height="23.81" fill="#ffcccc"/>
<rect x="1086.32" y="508.16" width="22.78" height="23.81" fill="#ffbaba"/>
<rect x="197.90" y="531.37" width="23.38" height="23.81" fill="#ff9191"/>
<rect x="220.68" y="531.37" width="23.38" height="23.81" fill="#ffc4c4"/>
<rect x="243.46" y="531.37" width="23.38" height="23.81" fill="#ff9999"/>
<rect x="266.24" y="531.37" width="23.38" height="23.81" fill="#ff9e9e"/>
<rect x="289.02" y="531.37" width="23.38" height="23.81" fill="#ff8080"/>
<rect x="311.80" y="531.37" width="23.38" height="23.81" fill="#ff7878"/>
<rect x="334.58" y="531.37" width="23.38" height="23.81" fill="#ff6b6b"/>
<rect x="357.36" y="531.37" width="23.38" height="23.81" fill="#ff2626"/>
<rect x="380.14" y="531.37" width="46.16" height="23.81" fill="#ff4040"/>
<rect x="425.70" y="531.37" width="23.38" height="23.81" fill="#ff5959"/>
<rect x="448.48" y="531.37" width="23.38" height="23.81" fill="#ff4040"/>
<rect x="471.26" y="531.37" width="23.38" height="23.81" fill="#ff2b2b"/>
<rect x="494.04" y="531.37" width="23.38" height="23.81" fill="#ff0000"/>
<rect x="516.82" y="531.37" width="23.38" height="23.81" fill="#ffb8b8"/>
<rect x="539.60" y="531.37" width="23.38" height="23.81" fill="#ff8787"/>
<rect x="562.38" y="531.37" width="23.38" height="23.81" fill="#ff6666"/>
<rect x="585.16" y="531.37" width="23.38" height="23.81" fill="#ff8c8c"/>
<rect x="607.94" y="531.37" width="23.38" height="23.81" fill="#ffb2b2"/>
<rect x="630.72" y="531.37" width="23.38" height="23.81" fill="#f5f5ff"/>
<rect x="653.50" y="531.37" width="23.38" height="23.81" fill="#ededff"/>
<rect x="676.28" y="531.37" width="23.38" height="23.81" fill="#ffffff"/>
<rect x="699.06" y="531.37" width="23.38" height="23.81" fill="#fff0f0"/>
<rect x="721.84" y="531.37" width="23.38" height="23.81" fill="#fafaff"/>
<rect x="744.62" y="531.37" width="23.38" height="23.81" fill="#f2f2ff"/>
<rect x="767.40" y="531.37" width="23.38" height="23.81" fill="#ffffff"/>
<rect x="790.18" y="531.37" width="23.38" height="23.81" fill="#e6e6ff"/>
<rect x="812.96" y="531.37" width="23.38" height="23.81" fill="#f5f5ff"/>
<rect x="835.74" y="531.37" width="46.16" height="23.81" fill="#ebebff"/>
<rect x="881.30" y="531.37" width="23.38" height="23.81" fill="#d6d6ff"/>
<rect x="904.08" y="531.37" width="23.38" height="23.81" fill="#f0f0ff"/>
<rect x="926.86" y="531.37" width="23.38" height="23.81" fill="#ededff"/>
<rect x="949.64" y="531.37" width="23.38" height="23.81" fill="#fcfcff"/>
<rect x="972.42" y="531.37" width="23.38" height="23.81" fill="#d9d9ff"/>
<rect x="995.20" y="531.37" width="23.38" height="23.81" fill="#fff0f0"/>
<rect x="1017.98" y="531.37" width="23.38" height="23.81" fill="#ffcfcf"/>
<rect x="1040.76" y="531.37" width="46.16" height="23.81" fill="#ffd6d6"/>
<rect x="1086.32" y="531.37" width="22.78" height="23.81" fill="#ffa3a3"/>
<rect x="197.90" y="554.57" width="46.16" height="23.81" fill="#ffcccc"/>
<rect x="243.46" y="554.57" width="23.38" height="23.81" fill="#ffbaba"/>
<rect x="266.24" y="554.57" width="23.38" height="23.81" fill="#ffd1d1"/>
<rect x="289.02" y="554.57" width="46.16" height="23.81" fill="#ff7373"/>
<rect x="334.58" y="554.57" width="46.16" height="23.81" fill="#ffbaba"/>
<rect x="380.14" y="554.57" width="23.38" height="23.81" fill="#ffabab"/>
<rect x="402.92" y="554.57" width="46.16" height="23.81" fill="#ffcccc"/>
<rect x="448.48" y="554.57" width="23.38" height="23.81" fill="#ff5252"/>
<rect x="471.26" y="554.57" width="23.38" height="23.81" fill="#ffa6a6"/>
<rect x="494.04" y="554.57" width="23.38" height="23.81" fill="#ffb8b8"/>
<rect x="516.82" y="554.57" width="23.38" height="23.81" fill="#ff0000"/>
<rect x="539.60" y="554.57" width="23.38" height="23.81" fill="#ff8c8c"/>
<rect x="562.38" y="554.57" width="23.38" height="23.81" fill="#ff5959"/>
<rect x="585.16" y="554.57" width="23.38" height="23.81" fill="#ff8787"/>
<rect x="607.94" y="554.57" width="23.38" height="23.81" fill="#ff9191"/>
<rect x="630.72" y="554.57" width="23.38" height="23.81" fill="#ffd4d4"/>
<rect x="653.50" y="554.57" width="23.38" height="23.81" fill="#fafaff"/>
<rect x="676.28" y="554.57" width="23.38" height="23.81" fill="#ffb2b2"/>
<rect x="699.06" y="554.57" width="23.38" height="23.81" fill="#ffabab"/>
<rect x="721.84" y="554.57" width="23.38" height="23.81" fill="#ffdede"/>
<rect x="744.62" y="554.57" width="23.38" height="23.81" fill="#ededff"/>
<rect x="767.40" y="554.57" width="23.38" height="23.81" fill="#fff7f7"/>
<rect x="790.18" y="554.57" width="23.38" height="23.81" fill="#f7f7ff"/>
<rect x="812.96" y="554.57" width="46.16" height="23.81" fill="#fffcfc"/>
<rect x="858.52" y="554.57" width="23.38" height="23.81" fill="#fafaff"/>
<rect x="881.30" y="554.57" width="23.38" height="23.81" fill="#f5f5ff"/>
<rect x="904.08" y="554.57" width="23.38" height="23.81" fill="#f7f7ff"/>
<rect x="926.86" y="554.57" width="23.38" height="23.81" fill="#f0f0ff"/>
<rect x="949.64" y="554.57" width="23.38" height="23.81" fill="#e3e3ff"/>
<rect x="972.42" y="554.57" width="23.38" height="23.81" fill="#ffdbdb"/>
<rect x="995.20" y="554.57" width="23.38" height="23.81" fill="#fffcfc"/>
<rect x="1017.98" y="554.57" width="23.38" height="23.81" fill="#f5f5ff"/>
<rect x="1040.76" y="554.57" width="23.38" height="23.81" fill="#ffb0b0"/>
<rect x="1063.54" y="554.57" width="23.38" height="23.81" fill="#ffcccc"/>
<rect x="1086.32" y="554.57" width="22.78" height="23.81" fill="#ffeded"/>
<rect x="197.90" y="577.78" width="23.38" height="23.81" fill="#fcfcff"/>
<rect x="220.68" y="577.78" width="23.38" height="23.81" fill="#ffd9d9"/>
<rect x="243.46" y="577.78" width="23.38" height="23.81" fill="#ffd4d4"/>
<rect x="266.24" y="577.78" width="68.94" height="23.81" fill="#ffd1d1"/>
<rect x="334.58" y="577.78" width="46.16" height="23.81" fill="#ffcccc"/>
<rect x="380.14" y="577.78" width="23.38" height="23.81" fill="#ffe6e6"/>
<rect x="402.92" y="577.78" width="23.38" height="23.81" fill="#ffadad"/>
<rect x="425.70" y="577.78" width="23.38" height="23.81" fill="#ffbaba"/>
<rect x="448.48" y="577.78" width="23.38" height="23.81" fill="#ff6666"/>
<rect x="471.26" y="577.78" width="23.38" height="23.81" fill="#ff9999"/>
<rect x="494.04" y="577.78" width="23.38" height="23.81" fill="#ff8787"/>
<rect x="516.82" y="577.78" width="23.38" height="23.81" fill="#ff8c8c"/>
<rect x="539.60" y="577.78" width="23.38" height="23.81" fill="#ff0000"/>
<rect x="562.38" y="577.78" width="23.38" height="23.81" fill="#ff4d4d"/>
<rect x="585.16" y="577.78" width="23.38" height="23.81" fill="#ffadad"/>
<rect x="607.94" y="577.78" width="23.38" height="23.81" fill="#ffb2b2"/>
<rect x="630.72" y="577.78" width="23.38" height="23.81" fill="#ffc7c7"/>
<rect x="653.50" y="577.78" width="23.38" height="23.81" fill="#ffe6e6"/>
<rect x="676.28" y="577.78" width="23.38" height="23.81" fill="#ffcccc"/>
<rect x="699.06" y="577.78" width="23.38" height="23.81" fill="#ffabab"/>
<rect x="721.84" y="577.78" width="23.38" height="23.81" fill="#fffcfc"/>
<rect x="744.62" y="577.78" width="23.38" height="23.81" fill="#f5f5ff"/>
<rect x="767.40" y="577.78" width="23.38" height="23.81" fill="#ff9191"/>
<rect x="790.18" y="577.78" width="46.16" height="23.81" fill="#ededff"/>
<rect x="835.74" y="577.78" width="23.38" height="23.81" fill="#fff5f5"/>
<rect x="858.52" y="577.78" width="68.94" height="23.81" fill="#ebebff"/>
<rect x="926.86" y="577.78" width="23.38" height="23.81" fill="#fff0f0"/>
<rect x="949.64" y="577.78" width="46.16" height="23.81" fill="#fafaff"/>
<rect x="995.20" y="577.78" width="23.38" height="23.81" fill="#ffffff"/>
<rect x="1017.98" y="577.78" width="23.38" height="23.81" fill="#fff0f0"/>
<rect x="1040.76" y="577.78" width="23.38" height="23.81" fill="#ffc9c9"/>
<rect x="1063.54" y="577.78" width="23.38" height="23.81" fill="#ffd6d6"/>
<rect x="1086.32" y="577.78" width="22.78" height="23.81" fill="#ffc2c2"/>
<rect x="197.90" y="600.98" width="23.38" height="23.81" fill="#ffebeb"/>
<rect x="220.68" y="600.98" width="23.38" height="23.81" fill="#ffd1d1"/>
<rect x="243.46" y="600.98" width="23.38" height="23.81" fill="#ffd4d4"/>
<rect x="266.24" y="600.98" width="23.38" height="23.81" fill="#ffd9d9"/>
<rect x="289.02" y="600.98" width="23.38" height="23.81" fill="#ff7a7a"/>
<rect x="311.80" y="600.98" width="23.38" height="23.81" fill="#ff8c8c"/>
<rect x="334.58" y="600.98" width="23.38" height="23.81" fill="#ffe0e0"/>
<rect x="357.36" y="600.98" width="23.38" height="23.81" fill="#ffa1a1"/>
<rect x="380.14" y="600.98" width="23.38" height="23.81" fill="#ffcccc"/>
<rect x="402.92" y="600.98" width="46.16" height="23.81" fill="#ff9494"/>
<rect x="448.48" y="600.98" width="23.38" height="23.81" fill="#ff4545"/>
<rect x="471.26" y="600.98" width="23.38" height="23.81" fill="#ff3b3b"/>
<rect x="494.04" y="600.98" width="23.38" height="23.81" fill="#ff6666"/>
<rect x="516.82" y="600.98" width="23.38" height="23.81" fill="#ff5959"/>
<rect x="539.60" y="600.98" width="23.38" height="23.81" fill="#ff4d4d"/>
<rect x="562.38" y="600.98" width="23.38" height="23.81" fill="#ff0000"/>
<rect x="585.16" y="600.98" width="23.38" height="23.81" fill="#ff8c8c"/>
<rect x="607.94" y="600.98" width="23.38" height="23.81" fill="#ff9999"/>
<rect x="630.72" y="600.98" width="23.38" height="23.81" fill="#ffd1d1"/>
<rect x="653.50" y="600.98" width="23.38" height="23.81" fill="#fffcfc"/>
<rect x="676.28" y="600.98" width="46.16" height="23.81" fill="#ffadad"/>
<rect x="721.84" y="600.98" width="23.38" height="23.81" fill="#e6e6ff"/>
<rect x="744.62" y="600.98" width="23.38" height="23.81" fill="#ffebeb"/>
<rect x="767.40" y="600.98" width="23.38" height="23.81" fill="#fff0f0"/>
<rect x="790.18" y="600.98" width="23.38" height="23.81" fill="#ebebff"/>
<rect x="812.96" y="600.98" width="23.38" height="23.81" fill="#e0e0ff"/>
<rect x="835.74" y="600.98" width="23.38" height="23.81" fill="#f0f0ff"/>
<rect x="858.52" y="600.98" width="23.38" height="23.81" fill="#d6d6ff"/>
<rect x="881.30" y="600.98" width="23.38" height="23.81" fill="#d4d4ff"/>
<rect x="904.08" y="600.98" width="23.38" height="23.81" fill="#f5f5ff"/>
<rect x="926.86" y="600.98" width="23.38" height="23.81" fill="#fcfcff"/>
<rect x="949.64" y="600.98" width="68.94" height="23.81" fill="#ffebeb"/>
<rect x="1017.98" y="600.98" width="23.38" height="23.81" fill="#fff0f0"/>
<rect x="1040.76" y="600.98" width="23.38" height="23.81" fill="#ffb8b8"/>
<rect x="1063.54" y="600.98" width="45.56" height="23.81" fill="#ffcccc"/>
<rect x="197.90" y="624.18" width="23.38" height="23.81" fill="#ff9e9e"/>
<rect x="220.68" y="624.18" width="23.38" height="23.81" fill="#ffabab"/>
<rect x="243.46" y="624.18" width="23.38" height="23.81" fill="#ff9e9e"/>
<rect x="266.24" y="624.18" width="46.16" height="23.81" fill="#ff9999"/>
<rect x="311.80" y="624.18" width="23.38" height="23.81" fill="#ffa6a6"/>
<rect x="334.58" y="624.18" width="68.94" height="23.81" fill="#ff8c8c"/>
<rect x="402.92" y="624.18" width="23.38" height="23.81" fill="#ff9494"/>
<rect x="425.70" y="624.18" width="23.38" height="23.81" fill="#ff7a7a"/>
<rect x="448.48" y="624.18" width="23.38" height="23.81" fill="#ff5959"/>
<rect x="471.26" y="624.18" width="23.38" height="23.81" fill="#ffa6a6"/>
<rect x="494.04" y="624.18" width="23.38" height="23.81" fill="#ff8c8c"/>
<rect x="516.82" y="624.18" width="23.38" height="23.81" fill="#ff8787"/>
<rect x="539.60" y="624.18" width="23.38" height="23.81" fill="#ffadad"/>
<rect x="562.38" y="624.18" width="23.38" height="23.81" fill="#ff8c8c"/>
<rect x="585.16" y="624.18" width="23.38" height="23.81" fill="#ff0000"/>
<rect x="607.94" y="624.18" width="23.38" height="23.81" fill="#ff9999"/>
<rect x="630.72" y="624.18" width="23.38" height="23.81" fill="#ffc7c7"/>
<rect x="653.50" y="624.18" width="23.38" height="23.81" fill="#fff0f0"/>
<rect x="676.28" y="624.18" width="23.38" height="23.81" fill="#ffadad"/>
<rect x="699.06" y="624.18" width="23.38" height="23.81" fill="#ffb2b2"/>
<rect x="721.84" y="624.18" width="23.38" height="23.81" fill="#ffd9d9"/>
<rect x="744.62" y="624.18" width="23.38" height="23.81" fill="#ffcccc"/>
<rect x="767.40" y="624.18" width="23.38" height="23.81" fill="#ffb2b2"/>
<rect x="790.18" y="624.18" width="23.38" height="23.81" fill="#fafaff"/>
<rect x="812.96" y="624.18" width="46.16" height="23.81" fill="#fff0f0"/>
<rect x="858.52" y="624.18" width="23.38" height="23.81" fill="#ffebeb"/>
<rect x="881.30" y="624.18" width="23.38" height="23.81" fill="#fffafa"/>
<rect x="904.08" y="624.18" width="23.38" height="23.81" fill="#ffe6e6"/>
<rect x="926.86" y="624.18" width="23.38" height="23.81" fill="#ffebeb"/>
<rect x="949.64" y="624.18" width="23.38" height="23.81" fill="#ff9191"/>
<rect x="972.42" y="624.18" width="23.38" height="23.81" fill="#ffa3a3"/>
<rect x="995.20" y="624.18" width="23.38" height="23.81" fill="#ffbfbf"/>
<rect x="1017.98" y="624.18" width="23.38" height="23.81" fill="#ffa1a1"/>
<rect x="1040.76" y="624.18" width="23.38" height="23.81" fill="#ffe6e6"/>
<rect x="1063.54" y="624.18" width="23.38" height="23.81" fill="#ff9696"/>
<rect x="1086.32" y="624.18" width="22.78" height="23.81" fill="#ffabab"/>
<rect x="197.90" y="647.39" width="23.38" height="23.81" fill="#ffbfbf"/>
<rect x="220.68" y="647.39" width="23.38" height="23.81" fill="#ffabab"/>
<rect x="243.46" y="647.39" width="23.38" height="23.81" fill="#ff9191"/>
<rect x="266.24" y="647.39" width="23.38" height="23.81" fill="#ff9e9e"/>
<rect x="289.02" y="647.39" width="23.38" height="23.81" fill="#ff7a7a"/>
<rect x="311.80" y="647.39" width="23.38" height="23.81" fill="#ff5e5e"/>
<rect x="334.58" y="647.39" width="23.38" height="23.81" fill="#ffd1d1"/>
<rect x="357.36" y="647.39" width="46.16" height="23.81" fill="#ffc4c4"/>
<rect x="402.92" y="647.39" width="23.38" height="23.81" fill="#ffcccc"/>
<rect x="425.70" y="647.39" width="23.38" height="23.81" fill="#ffadad"/>
<rect x="448.48" y="647.39" width="23.38" height="23.81" fill="#ff8080"/>
<rect x="471.26" y="647.39" width="23.38" height="23.81" fill="#ff9191"/>
<rect x="494.04" y="647.39" width="23.38" height="23.81" fill="#ffb2b2"/>
<rect x="516.82" y="647.39" width="23.38" height="23.81" fill="#ff9191"/>
<rect x="539.60" y="647.39" width="23.38" height="23.81" fill="#ffb2b2"/>
<rect x="562.38" y="647.39" width="46.16" height="23.81" fill="#ff9999"/>
<rect x="607.94" y="647.39" width="23.38" height="23.81" fill="#ff0000"/>
<rect x="630.72" y="647.39" width="23.38" height="23.81" fill="#ffebeb"/>
<rect x="653.50" y="647.39" width="23.38" height="23.81" fill="#fff2f2"/>
<rect x="676.28" y="647.39" width="23.38" height="23.81" fill="#ff9999"/>
<rect x="699.06" y="647.39" width="23.38" height="23.81" fill="#ff8787"/>
<rect x="721.84" y="647.39" width="23.38" height="23.81" fill="#ffa1a1"/>
<rect x="744.62" y="647.39" width="23.38" height="23.81" fill="#ffd1d1"/>
<rect x="767.40" y="647.39" width="23.38" height="23.81" fill="#ffc4c4"/>
<rect x="790.18" y="647.39" width="23.38" height="23.81" fill="#ffd9d9"/>
<rect x="812.96" y="647.39" width="23.38" height="23.81" fill="#ff9e9e"/>
<rect x="835.74" y="647.39" width="46.16" height="23.81" fill="#ffc7c7"/>
<rect x="881.30" y="647.39" width="23.38" height="23.81" fill="#ffe6e6"/>
<rect x="904.08" y="647.39" width="23.38" height="23.81" fill="#ffbfbf"/>
<rect x="926.86" y="647.39" width="23.38" height="23.81" fill="#ffc9c9"/>
<rect x="949.64" y="647.39" width="23.38" height="23.81" fill="#fff0f0"/>
<rect x="972.42" y="647.39" width="23.38" height="23.81" fill="#ffdede"/>
<rect x="995.20" y="647.39" width="23.38" height="23.81" fill="#ffbfbf"/>
<rect x="1017.98" y="647.39" width="23.38" height="23.81" fill="#fcfcff"/>
<rect x="1040.76" y="647.39" width="23.38" height="23.81" fill="#ffc9c9"/>
<rect x="1063.54" y="647.39" width="23.38" height="23.81" fill="#ffd9d9"/>
<rect x="1086.32" y="647.39" width="22.78" height="23.81" fill="#ffcccc"/>
<rect x="197.90" y="670.60" width="23.38" height="23.81" fill="#fff0f0"/>
<rect x="220.68" y="670.60" width="23.38" height="23.81" fill="#ffabab"/>
<rect x="243.46" y="670.60" width="23.38" height="23.81" fill="#ffe6e6"/>
<rect x="266.24" y="670.60" width="23.38" height="23.81" fill="#ffe8e8"/>
<rect x="289.02" y="670.60" width="23.38" height="23.81" fill="#fcfcff"/>
<rect x="311.80" y="670.60" width="23.38" height="23.81" fill="#e6e6ff"/>
<rect x="334.58" y="670.60" width="23.38" height="23.81" fill="#fff5f5"/>
<rect x="357.36" y="670.60" width="23.38" height="23.81" fill="#ffffff"/>
<rect x="380.14" y="670.60" width="23.38" height="23.81" fill="#f0f0ff"/>
<rect x="402.92" y="670.60" width="23.38" height="23.81" fill="#ffe6e6"/>
<rect x="425.70" y="670.60" width="23.38" height="23.81" fill="#fffcfc"/>
<rect x="448.48" y="670.60" width="23.38" height="23.81" fill="#ffd9d9"/>
<rect x="471.26" y="670.60" width="23.38" height="23.81" fill="#f2f2ff"/>
<rect x="494.04" y="670.60" width="23.38" height="23.81" fill="#f5f5ff"/>
<rect x="516.82" y="670.60" width="23.38" height="23.81" fill="#ffd4d4"/>
<rect x="539.60" y="670.60" width="23.38" height="23.81" fill="#ffc7c7"/>
<rect x="562.38" y="670.60" width="23.38" height="23.81" fill="#ffd1d1"/>
<rect x="585.16" y="670.60" width="23.38" height="23.81" fill="#ffc7c7"/>
<rect x="607.94" y="670.60" width="23.38" height="23.81" fill="#ffebeb"/>
<rect x="630.72" y="670.60" width="23.38" height="23.81" fill="#ff0000"/>
<rect x="653.50" y="670.60" width="23.38" height="23.81" fill="#ffbaba"/>
<rect x="676.28" y="670.60" width="23.38" height="23.81" fill="#ff9494"/>
<rect x="699.06" y="670.60" width="23.38" height="23.81" fill="#ffc4c4"/>
<rect x="721.84" y="670.60" width="23.38" height="23.81" fill="#ffcccc"/>
<rect x="744.62" y="670.60" width="23.38" height="23.81" fill="#ffadad"/>
<rect x="767.40" y="670.60" width="23.38" height="23.81" fill="#ffbfbf"/>
<rect x="790.18" y="670.60" width="23.38" height="23.81" fill="#ffeded"/>
<rect x="812.96" y="670.60" width="23.38" height="23.81" fill="#ffe8e8"/>
<rect x="835.74" y="670.60" width="23.38" height="23.81" fill="#ffc4c4"/>
<rect x="858.52" y="670.60" width="23.38" height="23.81" fill="#ffcccc"/>
<rect x="881.30" y="670.60" width="23.38" height="23.81" fill="#ffd6d6"/>
<rect x="904.08" y="670.60" width="23.38" height="23.81" fill="#e3e3ff"/>
<rect x="926.86" y="670.60" width="23.38" height="23.81" fill="#e6e6ff"/>
<rect x="949.64" y="670.60" width="23.38" height="23.81" fill="#f2f2ff"/>
<rect x="972.42" y="670.60" width="23.38" height="23.81" fill="#ffc4c4"/>
<rect x="995.20" y="670.60" width="23.38" height="23.81" fill="#ffe0e0"/>
<rect x="1017.98" y="670.60" width="23.38" height="23.81" fill="#ffd9d9"/>
<rect x="1040.76" y="670.60" width="23.38" height="23.81" fill="#ffe8e8"/>
<rect x="1063.54" y="670.60" width="23.38" height="23.81" fill="#ffdede"/>
<rect x="1086.32" y="670.60" width="22.78" height="23.81" fill="#ffdbdb"/>
<rect x="197.90" y="693.80" width="23.38" height="23.81" fill="#fff2f2"/>
<rect x="220.68" y="693.80" width="23.38" height="23.81" fill="#ffbaba"/>
<rect x="243.46" y="693.80" width="23.38" height="23.81" fill="#e6e6ff"/>
<rect x="266.24" y="693.80" width="23.38" height="23.81" fill="#ffd4d4"/>
<rect x="289.02" y="693.80" width="23.38" height="23.81" fill="#ffebeb"/>
<rect x="311.80" y="693.80" width="23.38" height="23.81" fill="#f7f7ff"/>
<rect x="334.58" y="693.80" width="23.38" height="23.81" fill="#ffe8e8"/>
<rect x="357.36" y="693.80" width="23.38" height="23.81" fill="#ebebff"/>
<rect x="380.14" y="693.80" width="23.38" height="23.81" fill="#e0e0ff"/>
<rect x="402.92" y="693.80" width="23.38" height="23.81" fill="#fcfcff"/>
<rect x="425.70" y="693.80" width="23.38" height="23.81" fill="#fffafa"/>
<rect x="448.48" y="693.80" width="23.38" height="23.81" fill="#fff7f7"/>
<rect x="471.26" y="693.80" width="23.38" height="23.81" fill="#f5f5ff"/>
<rect x="494.04" y="693.80" width="23.38" height="23.81" fill="#ededff"/>
<rect x="516.82" y="693.80" width="23.38" height="23.81" fill="#fafaff"/>
<rect x="539.60" y="693.80" width="23.38" height="23.81" fill="#ffe6e6"/>
<rect x="562.38" y="693.80" width="23.38" height="23.81" fill="#fffcfc"/>
<rect x="585.16" y="693.80" width="23.38" height="23.81" fill="#fff0f0"/>
<rect x="607.94" y="693.80" width="23.38" height="23.81" fill="#fff2f2"/>
<rect x="630.72" y="693.80" width="23.38" height="23.81" fill="#ffbaba"/>
<rect x="653.50" y="693.80" width="23.38" height="23.81" fill="#ff0000"/>
<rect x="676.28" y="693.80" width="23.38" height="23.81" fill="#ff5e5e"/>
<rect x="699.06" y="693.80" width="23.38" height="23.81" fill="#ffa6a6"/>
<rect x="721.84" y="693.80" width="23.38" height="23.81" fill="#ffbaba"/>
<rect x="744.62" y="693.80" width="23.38" height="23.81" fill="#ffffff"/>
<rect x="767.40" y="693.80" width="23.38" height="23.81" fill="#ffc7c7"/>
<rect x="790.18" y="693.80" width="23.38" height="23.81" fill="#fcfcff"/>
<rect x="812.96" y="693.80" width="23.38" height="23.81" fill="#ffebeb"/>
<rect x="835.74" y="693.80" width="23.38" height="23.81" fill="#ffcccc"/>
<rect x="858.52" y="693.80" width="23.38" height="23.81" fill="#ffe6e6"/>
<rect x="881.30" y="693.80" width="23.38" height="23.81" fill="#ffffff"/>
<rect x="904.08" y="693.80" width="23.38" height="23.81" fill="#e0e0ff"/>
<rect x="926.86" y="693.80" width="23.38" height="23.81" fill="#ffe6e6"/>
<rect x="949.64" y="693.80" width="23.38" height="23.81" fill="#fffcfc"/>
<rect x="972.42" y="693.80" width="46.16" height="23.81" fill="#ffebeb"/>
<rect x="1017.98" y="693.80" width="23.38" height="23.81" fill="#fff5f5"/>
<rect x="1040.76" y="693.80" width="23.38" height="23.81" fill="#ffd9d9"/>
<rect x="1063.54" y="693.80" width="23.38" height="23.81" fill="#ffd4d4"/>
<rect x="1086.32" y="693.80" width="22.78" height="23.81" fill="#ffadad"/>
<rect x="197.90" y="717.01" width="23.38" height="23.81" fill="#ffe6e6"/>
<rect x="220.68" y="717.01" width="23.38" height="23.81" fill="#ff9191"/>
<rect x="243.46" y="717.01" width="23.38" height="23.81" fill="#ffbfbf"/>
<rect x="266.24" y="717.01" width="23.38" height="23.81" fill="#ffa6a6"/>
<rect x="289.02" y="717.01" width="46.16" height="23.81" fill="#ffe0e0"/>
<rect x="334.58" y="717.01" width="23.38" height="23.81" fill="#ffeded"/>
<rect x="357.36" y="717.01" width="23.38" height="23.81" fill="#f5f5ff"/>
<rect x="380.14" y="717.01" width="23.38" height="23.81" fill="#dbdbff"/>
<rect x="402.92" y="717.01" width="23.38" height="23.81" fill="#f2f2ff"/>
<rect x="425.70" y="717.01" width="23.38" height="23.81" fill="#ffffff"/>
<rect x="448.48" y="717.01" width="23.38" height="23.81" fill="#ffe6e6"/>
<rect x="471.26" y="717.01" width="23.38" height="23.81" fill="#fff5f5"/>
<rect x="494.04" y="717.01" width="23.38" height="23.81" fill="#ffffff"/>
<rect x="516.82" y="717.01" width="23.38" height="23.81" fill="#ffb2b2"/>
<rect x="539.60" y="717.01" width="23.38" height="23.81" fill="#ffcccc"/>
<rect x="562.38" y="717.01" width="46.16" height="23.81" fill="#ffadad"/>
<rect x="607.94" y="717.01" width="23.38" height="23.81" fill="#ff9999"/>
<rect x="630.72" y="717.01" width="23.38" height="23.81" fill="#ff9494"/>
<rect x="653.50" y="717.01" width="23.38" height="23.81" fill="#ff5e5e"/>
<rect x="676.28" y="717.01" width="23.38" height="23.81" fill="#ff0000"/>
<rect x="699.06" y="717.01" width="23.38" height="23.81" fill="#ff2b2b"/>
<rect x="721.84" y="717.01" width="23.38" height="23.81" fill="#ff8787"/>
<rect x="744.62" y="717.01" width="23.38" height="23.81" fill="#ff8c8c"/>
<rect x="767.40" y="717.01" width="23.38" height="23.81" fill="#ffabab"/>
<rect x="790.18" y="717.01" width="23.38" height="23.81" fill="#ffd9d9"/>
<rect x="812.96" y="717.01" width="23.38" height="23.81" fill="#ffbaba"/>
<rect x="835.74" y="717.01" width="46.16" height="23.81" fill="#ffadad"/>
<rect x="881.30" y="717.01" width="23.38" height="23.81" fill="#ffbaba"/>
<rect x="904.08" y="717.01" width="23.38" height="23.81" fill="#fff2f2"/>
<rect x="926.86" y="717.01" width="23.38" height="23.81" fill="#ffe0e0"/>
<rect x="949.64" y="717.01" width="23.38" height="23.81" fill="#fffafa"/>
<rect x="972.42" y="717.01" width="23.38" height="23.81" fill="#ffbfbf"/>
<rect x="995.20" y="717.01" width="23.38" height="23.81" fill="#ffd4d4"/>
<rect x="1017.98" y="717.01" width="23.38" height="23.81" fill="#e8e8ff"/>
<rect x="1040.76" y="717.01" width="23.38" height="23.81" fill="#ffe0e0"/>
<rect x="1063.54" y="717.01" width="23.38" height="23.81" fill="#ffcccc"/>
<rect x="1086.32" y="717.01" width="22.78" height="23.81" fill="#ffe0e0"/>
<rect x="197.90" y="740.21" width="23.38" height="23.81" fill="#ffe8e8"/>
<rect x="220.68" y="740.21" width="46.16" height="23.81" fill="#ffb8b8"/>
<rect x="266.24" y="740.21" width="23.38" height="23.81" fill="#ff9999"/>
<rect x="289.02" y="740.21" width="23.38" height="23.81" fill="#fffcfc"/>
<rect x="311.80" y="740.21" width="23.38" height="23.81" fill="#fff0f0"/>
<rect x="334.58" y="740.21" width="23.38" height="23.81" fill="#ffebeb"/>
<rect x="357.36" y="740.21" width="23.38" height="23.81" fill="#fffafa"/>
<rect x="380.14" y="740.21" width="23.38" height="23.81" fill="#e8e8ff"/>
<rect x="402.92" y="740.21" width="23.38" height="23.81" fill="#ffffff"/>
<rect x="425.70" y="740.21" width="23.38" height="23.81" fill="#fff2f2"/>
<rect x="448.48" y="740.21" width="23.38" height="23.81" fill="#ffebeb"/>
<rect x="471.26" y="740.21" width="23.38" height="23.81" fill="#fff5f5"/>
<rect x="494.04" y="740.21" width="23.38" height="23.81" fill="#fff0f0"/>
<rect x="516.82" y="740.21" width="46.16" height="23.81" fill="#ffabab"/>
<rect x="562.38" y="740.21" width="23.38" height="23.81" fill="#ffadad"/>
<rect x="585.16" y="740.21" width="23.38" height="23.81" fill="#ffb2b2"/>
<rect x="607.94" y="740.21" width="23.38" height="23.81" fill="#ff8787"/>
<rect x="630.72" y="740.21" width="23.38" height="23.81" fill="#ffc4c4"/>
<rect x="653.50" y="740.21" width="23.38" height="23.81" fill="#ffa6a6"/>
<rect x="676.28" y="740.21" width="23.38" height="23.81" fill="#ff2b2b"/>
<rect x="699.06" y="740.21" width="23.38" height="23.81" fill="#ff0000"/>
<rect x="721.84" y="740.21" width="23.38" height="23.81" fill="#ffadad"/>
<rect x="744.62" y="740.21" width="23.38" height="23.81" fill="#ff9e9e"/>
<rect x="767.40" y="740.21" width="23.38" height="23.81" fill="#ffa6a6"/>
<rect x="790.18" y="740.21" width="23.38" height="23.81" fill="#ffd9d9"/>
<rect x="812.96" y="740.21" width="23.38" height="23.81" fill="#ffbaba"/>
<rect x="835.74" y="740.21" width="23.38" height="23.81" fill="#ffbfbf"/>
<rect x="858.52" y="740.21" width="23.38" height="23.81" fill="#ffbaba"/>
<rect x="881.30" y="740.21" width="23.38" height="23.81" fill="#ffc4c4"/>
<rect x="904.08" y="740.21" width="23.38" height="23.81" fill="#fff2f2"/>
<rect x="926.86" y="740.21" width="23.38" height="23.81" fill="#ffc7c7"/>
<rect x="949.64" y="740.21" width="23.38" height="23.81" fill="#fffafa"/>
<rect x="972.42" y="740.21" width="23.38" height="23.81" fill="#ffbfbf"/>
<rect x="995.20" y="740.21" width="23.38" height="23.81" fill="#ffe0e0"/>
<rect x="1017.98" y="740.21" width="23.38" height="23.81" fill="#d6d6ff"/>
<rect x="1040.76" y="740.21" width="46.16" height="23.81" fill="#ffdbdb"/>
<rect x="1086.32" y="740.21" width="22.78" height="23.81" fill="#ffe0e0"/>
<rect x="197.90" y="763.41" width="23.38" height="23.81" fill="#ffc4c4"/>
<rect x="220.68" y="763.41" width="23.38" height="23.81" fill="#ff9494"/>
<rect x="243.46" y="763.41" width="23.38" height="23.81" fill="#ff8080"/>
<rect x="266.24" y="763.41" width="23.38" height="23.81" fill="#ff9191"/>
<rect x="289.02" y="763.41" width="23.38" height="23.81" fill="#ffcccc"/>
<rect x="311.80" y="763.41" width="23.38" height="23.81" fill="#ffb8b8"/>
<rect x="334.58" y="763.41" width="23.38" height="23.81" fill="#fff7f7"/>
<rect x="357.36" y="763.41" width="23.38" height="23.81" fill="#fffafa"/>
<rect x="380.14" y="763.41" width="23.38" height="23.81" fill="#ffe6e6"/>
<rect x="402.92" y="763.41" width="23.38" height="23.81" fill="#ffffff"/>
<rect x="425.70" y="763.41" width="23.38" height="23.81" fill="#fafaff"/>
<rect x="448.48" y="763.41" width="23.38" height="23.81" fill="#ffebeb"/>
<rect x="471.26" y="763.41" width="23.38" height="23.81" fill="#f0f0ff"/>
<rect x="494.04" y="763.41" width="23.38" height="23.81" fill="#fafaff"/>
<rect x="516.82" y="763.41" width="23.38" height="23.81" fill="#ffdede"/>
<rect x="539.60" y="763.41" width="23.38" height="23.81" fill="#fffcfc"/>
<rect x="562.38" y="763.41" width="23.38" height="23.81" fill="#e6e6ff"/>
<rect x="585.16" y="763.41" width="23.38" height="23.81" fill="#ffd9d9"/>
<rect x="607.94" y="763.41" width="23.38" height="23.81" fill="#ffa1a1"/>
<rect x="630.72" y="763.41" width="23.38" height="23.81" fill="#ffcccc"/>
<rect x="653.50" y="763.41" width="23.38" height="23.81" fill="#ffbaba"/>
<rect x="676.28" y="763.41" width="23.38" height="23.81" fill="#ff8787"/>
<rect x="699.06" y="763.41" width="23.38" height="23.81" fill="#ffadad"/>
<rect x="721.84" y="763.41" width="23.38" height="23.81" fill="#ff0000"/>
<rect x="744.62" y="763.41" width="23.38" height="23.81" fill="#ffa1a1"/>
<rect x="767.40" y="763.41" width="23.38" height="23.81" fill="#ffa6a6"/>
<rect x="790.18" y="763.41" width="23.38" height="23.81" fill="#ffbfbf"/>
<rect x="812.96" y="763.41" width="23.38" height="23.81" fill="#ffcccc"/>
<rect x="835.74" y="763.41" width="46.16" height="23.81" fill="#ffbfbf"/>
<rect x="881.30" y="763.41" width="23.38" height="23.81" fill="#ffb2b2"/>
<rect x="904.08" y="763.41" width="23.38" height="23.81" fill="#ffffff"/>
<rect x="926.86" y="763.41" width="23.38" height="23.81" fill="#ffe0e0"/>
<rect x="949.64" y="763.41" width="23.38" height="23.81" fill="#f5f5ff"/>
<rect x="972.42" y="763.41" width="23.38" height="23.81" fill="#ffd1d1"/>
<rect x="995.20" y="763.41" width="23.38" height="23.81" fill="#fff5f5"/>
<rect x="1017.98" y="763.41" width="23.38" height="23.81" fill="#e0e0ff"/>
<rect x="1040.76" y="763.41" width="23.38" height="23.81" fill="#fff0f0"/>
<rect x="1063.54" y="763.41" width="23.38" height="23.81" fill="#ffd9d9"/>
<rect x="1086.32" y="763.41" width="22.78" height="23.81" fill="#ffd4d4"/>
<rect x="197.90" y="786.62" width="23.38" height="23.81" fill="#ffc4c4"/>
<rect x="220.68" y="786.62" width="23.38" height="23.81" fill="#ff9999"/>
<rect x="243.46" y="786.62" width="23.38" height="23.81" fill="#ff9191"/>
<rect x="266.24" y="786.62" width="23.38" height="23.81" fill="#ff8585"/>
<rect x="289.02" y="786.62" width="23.38" height="23.81" fill="#fcfcff"/>
<rect x="311.80" y="786.62" width="23.38" height="23.81" fill="#dbdbff"/>
<rect x="334.58" y="786.62" width="23.38" height="23.81" fill="#e8e8ff"/>
<rect x="357.36" y="786.62" width="23.38" height="23.81" fill="#f0f0ff"/>
<rect x="380.14" y="786.62" width="23.38" height="23.81" fill="#e8e8ff"/>
<rect x="402.92" y="786.62" width="46.16" height="23.81" fill="#ebebff"/>
<rect x="448.48" y="786.62" width="23.38" height="23.81" fill="#d6d6ff"/>
<rect x="471.26" y="786.62" width="23.38" height="23.81" fill="#ededff"/>
<rect x="494.04" y="786.62" width="23.38" height="23.81" fill="#f2f2ff"/>
<rect x="516.82" y="786.62" width="23.38" height="23.81" fill="#ededff"/>
<rect x="539.60" y="786.62" width="23.38" height="23.81" fill="#f5f5ff"/>
<rect x="562.38" y="786.62" width="23.38" height="23.81" fill="#ffebeb"/>
<rect x="585.16" y="786.62" width="23.38" height="23.81" fill="#ffcccc"/>
<rect x="607.94" y="786.62" width="23.38" height="23.81" fill="#ffd1d1"/>
<rect x="630.72" y="786.62" width="23.38" height="23.81" fill="#ffadad"/>
<rect x="653.50" y="786.62" width="23.38" height="23.81" fill="#ffffff"/>
<rect x="676.28" y="786.62" width="23.38" height="23.81" fill="#ff8c8c"/>
<rect x="699.06" y="786.62" width="23.38" height="23.81" fill="#ff9e9e"/>
<rect x="721.84" y="786.62" width="23.38" height="23.81" fill="#ffa1a1"/>
<rect x="744.62" y="786.62" width="23.38" height="23.81" fill="#ff0000"/>
<rect x="767.40" y="786.62" width="23.38" height="23.81" fill="#ff9999"/>
<rect x="790.18" y="786.62" width="23.38" height="23.81" fill="#ffcccc"/>
<rect x="812.96" y="786.62" width="23.38" height="23.81" fill="#ffe0e0"/>
<rect x="835.74" y="786.62" width="23.38" height="23.81" fill="#ffcccc"/>
<rect x="858.52" y="786.62" width="23.38" height="23.81" fill="#ffb2b2"/>
<rect x="881.30" y="786.62" width="23.38" height="23.81" fill="#ff8585"/>
<rect x="904.08" y="786.62" width="23.38" height="23.81" fill="#ffe6e6"/>
<rect x="926.86" y="786.62" width="23.38" height="23.81" fill="#fffafa"/>
<rect x="949.64" y="786.62" width="23.38" height="23.81" fill="#ffe0e0"/>
<rect x="972.42" y="786.62" width="23.38" height="23.81" fill="#ff8c8c"/>
<rect x="995.20" y="786.62" width="23.38" height="23.81" fill="#ffd9d9"/>
<rect x="1017.98" y="786.62" width="23.38" height="23.81" fill="#ffffff"/>
<rect x="1040.76" y="786.62" width="23.38" height="23.81" fill="#f2f2ff"/>
<rect x="1063.54" y="786.62" width="23.38" height="23.81" fill="#ffc4c4"/>
<rect x="1086.32" y="786.62" width="22.78" height="23.81" fill="#ffeded"/>
<rect x="197.90" y="809.83" width="23.38" height="23.81" fill="#ffb8b8"/>
<rect x="220.68" y="809.83" width="23.38" height="23.81" fill="#ff9e9e"/>
<rect x="243.46" y="809.83" width="23.38" height="23.81" fill="#ff9191"/>
<rect x="266.24" y="809.83" width="23.38" height="23.81" fill="#ff7373"/>
<rect x="289.02" y="809.83" width="23.38" height="23.81" fill="#fcfcff"/>
<rect x="311.80" y="809.83" width="23.38" height="23.81" fill="#dbdbff"/>
<rect x="334.58" y="809.83" width="23.38" height="23.81" fill="#ffe8e8"/>
<rect x="357.36" y="809.83" width="23.38" height="23.81" fill="#e6e6ff"/>
<rect x="380.14" y="809.83" width="23.38" height="23.81" fill="#e0e0ff"/>
<rect x="402.92" y="809.83" width="23.38" height="23.81" fill="#ffffff"/>
<rect x="425.70" y="809.83" width="23.38" height="23.81" fill="#fffafa"/>
<rect x="448.48" y="809.83" width="23.38" height="23.81" fill="#ffeded"/>
<rect x="471.26" y="809.83" width="23.38" height="23.81" fill="#ededff"/>
<rect x="494.04" y="809.83" width="23.38" height="23.81" fill="#ffffff"/>
<rect x="516.82" y="809.83" width="23.38" height="23.81" fill="#fff7f7"/>
<rect x="539.60" y="809.83" width="23.38" height="23.81" fill="#ff9191"/>
<rect x="562.38" y="809.83" width="23.38" height="23.81" fill="#fff0f0"/>
<rect x="585.16" y="809.83" width="23.38" height="23.81" fill="#ffb2b2"/>
<rect x="607.94" y="809.83" width="23.38" height="23.81" fill="#ffc4c4"/>
<rect x="630.72" y="809.83" width="23.38" height="23.81" fill="#ffbfbf"/>
<rect x="653.50" y="809.83" width="23.38" height="23.81" fill="#ffc7c7"/>
<rect x="676.28" y="809.83" width="23.38" height="23.81" fill="#ffabab"/>
<rect x="699.06" y="809.83" width="46.16" height="23.81" fill="#ffa6a6"/>
<rect x="744.62" y="809.83" width="23.38" height="23.81" fill="#ff9999"/>
<rect x="767.40" y="809.83" width="23.38" height="23.81" fill="#ff0000"/>
<rect x="790.18" y="809.83" width="23.38" height="23.81" fill="#ffd4d4"/>
<rect x="812.96" y="809.83" width="23.38" height="23.81" fill="#ffcccc"/>
<rect x="835.74" y="809.83" width="46.16" height="23.81" fill="#ffabab"/>
<rect x="881.30" y="809.83" width="23.38" height="23.81" fill="#ff8787"/>
<rect x="904.08" y="809.83" width="23.38" height="23.81" fill="#f7f7ff"/>
<rect x="926.86" y="809.83" width="23.38" height="23.81" fill="#ffbfbf"/>
<rect x="949.64" y="809.83" width="23.38" height="23.81" fill="#ffe6e6"/>
<rect x="972.42" y="809.83" width="23.38" height="23.81" fill="#ffadad"/>
<rect x="995.20" y="809.83" width="23.38" height="23.81" fill="#e6e6ff"/>
<rect x="1017.98" y="809.83" width="23.38" height="23.81" fill="#ffffff"/>
<rect x="1040.76" y="809.83" width="23.38" height="23.81" fill="#ffbfbf"/>
<rect x="1063.54" y="809.83" width="23.38" height="23.81" fill="#ff8787"/>
<rect x="1086.32" y="809.83" width="22.78" height="23.81" fill="#ff9e9e"/>
<rect x="197.90" y="833.03" width="23.38" height="23.81" fill="#fff2f2"/>
<rect x="220.68" y="833.03" width="23.38" height="23.81" fill="#ffbfbf"/>
<rect x="243.46" y="833.03" width="23.38" height="23.81" fill="#ffc4c4"/>
<rect x="266.24" y="833.03" width="23.38" height="23.81" fill="#ffebeb"/>
<rect x="289.02" y="833.03" width="23.38" height="23.81" fill="#e6e6ff"/>
<rect x="311.80" y="833.03" width="23.38" height="23.81" fill="#ededff"/>
<rect x="334.58" y="833.03" width="23.38" height="23.81" fill="#fafaff"/>
<rect x="357.36" y="833.03" width="23.38" height="23.81" fill="#e8e8ff"/>
<rect x="380.14" y="833.03" width="23.38" height="23.81" fill="#f0f0ff"/>
<rect x="402.92" y="833.03" width="23.38" height="23.81" fill="#d9d9ff"/>
<rect x="425.70" y="833.03" width="23.38" height="23.81" fill="#ebebff"/>
<rect x="448.48" y="833.03" width="23.38" height="23.81" fill="#e8e8ff"/>
<rect x="471.26" y="833.03" width="23.38" height="23.81" fill="#ededff"/>
<rect x="494.04" y="833.03" width="23.38" height="23.81" fill="#e6e6ff"/>
<rect x="516.82" y="833.03" width="23.38" height="23.81" fill="#f7f7ff"/>
<rect x="539.60" y="833.03" width="23.38" height="23.81" fill="#ededff"/>
<rect x="562.38" y="833.03" width="23.38" height="23.81" fill="#ebebff"/>
<rect x="585.16" y="833.03" width="23.38" height="23.81" fill="#fafaff"/>
<rect x="607.94" y="833.03" width="23.38" height="23.81" fill="#ffd9d9"/>
<rect x="630.72" y="833.03" width="23.38" height="23.81" fill="#ffeded"/>
<rect x="653.50" y="833.03" width="23.38" height="23.81" fill="#fcfcff"/>
<rect x="676.28" y="833.03" width="46.16" height="23.81" fill="#ffd9d9"/>
<rect x="721.84" y="833.03" width="23.38" height="23.81" fill="#ffbfbf"/>
<rect x="744.62" y="833.03" width="23.38" height="23.81" fill="#ffcccc"/>
<rect x="767.40" y="833.03" width="23.38" height="23.81" fill="#ffd4d4"/>
<rect x="790.18" y="833.03" width="23.38" height="23.81" fill="#ff0000"/>
<rect x="812.96" y="833.03" width="23.38" height="23.81" fill="#ffd4d4"/>
<rect x="835.74" y="833.03" width="23.38" height="23.81" fill="#ff8c8c"/>
<rect x="858.52" y="833.03" width="23.38" height="23.81" fill="#ffd1d1"/>
<rect x="881.30" y="833.03" width="23.38" height="23.81" fill="#ffcccc"/>
<rect x="904.08" y="833.03" width="23.38" height="23.81" fill="#fff5f5"/>
<rect x="926.86" y="833.03" width="23.38" height="23.81" fill="#f2f2ff"/>
<rect x="949.64" y="833.03" width="23.38" height="23.81" fill="#ffffff"/>
<rect x="972.42" y="833.03" width="23.38" height="23.81" fill="#f2f2ff"/>
<rect x="995.20" y="833.03" width="23.38" height="23.81" fill="#ebebff"/>
<rect x="1017.98" y="833.03" width="23.38" height="23.81" fill="#f0f0ff"/>
<rect x="1040.76" y="833.03" width="23.38" height="23.81" fill="#ffdede"/>
<rect x="1063.54" y="833.03" width="23.38" height="23.81" fill="#f0f0ff"/>
<rect x="1086.32" y="833.03" width="22.78" height="23.81" fill="#dbdbff"/>
<rect x="197.90" y="856.24" width="23.38" height="23.81" fill="#ffd4d4"/>
<rect x="220.68" y="856.24" width="23.38" height="23.81" fill="#ffb8b8"/>
<rect x="243.46" y="856.24" width="23.38" height="23.81" fill="#ffbfbf"/>
<rect x="266.24" y="856.24" width="23.38" height="23.81" fill="#ffb2b2"/>
<rect x="289.02" y="856.24" width="46.16" height="23.81" fill="#fafaff"/>
<rect x="334.58" y="856.24" width="23.38" height="23.81" fill="#ffffff"/>
<rect x="357.36" y="856.24" width="23.38" height="23.81" fill="#ededff"/>
<rect x="380.14" y="856.24" width="23.38" height="23.81" fill="#e8e8ff"/>
<rect x="402.92" y="856.24" width="23.38" height="23.81" fill="#d1d1ff"/>
<rect x="425.70" y="856.24" width="23.38" height="23.81" fill="#e0e0ff"/>
<rect x="448.48" y="856.24" width="23.38" height="23.81" fill="#ebebff"/>
<rect x="471.26" y="856.24" width="23.38" height="23.81" fill="#ededff"/>
<rect x="494.04" y="856.24" width="23.38" height="23.81" fill="#f5f5ff"/>
<rect x="516.82" y="856.24" width="23.38" height="23.81" fill="#fffcfc"/>
<rect x="539.60" y="856.24" width="23.38" height="23.81" fill="#ededff"/>
<rect x="562.38" y="856.24" width="23.38" height="23.81" fill="#e0e0ff"/>
<rect x="585.16" y="856.24" width="23.38" height="23.81" fill="#fff0f0"/>
<rect x="607.94" y="856.24" width="23.38" height="23.81" fill="#ff9e9e"/>
<rect x="630.72" y="856.24" width="23.38" height="23.81" fill="#ffe8e8"/>
<rect x="653.50" y="856.24" width="23.38" height="23.81" fill="#ffebeb"/>
<rect x="676.28" y="856.24" width="46.16" height="23.81" fill="#ffbaba"/>
<rect x="721.84" y="856.24" width="23.38" height="23.81" fill="#ffcccc"/>
<rect x="744.62" y="856.24" width="23.38" height="23.81" fill="#ffe0e0"/>
<rect x="767.40" y="856.24" width="23.38" height="23.81" fill="#ffcccc"/>
<rect x="790.18" y="856.24" width="23.38" height="23.81" fill="#ffd4d4"/>
<rect x="812.96" y="856.24" width="23.38" height="23.81" fill="#ff0000"/>
<rect x="835.74" y="856.24" width="23.38" height="23.81" fill="#ff9494"/>
<rect x="858.52" y="856.24" width="23.38" height="23.81" fill="#ff4545"/>
<rect x="881.30" y="856.24" width="23.38" height="23.81" fill="#ff8080"/>
<rect x="904.08" y="856.24" width="23.38" height="23.81" fill="#ffabab"/>
<rect x="926.86" y="856.24" width="23.38" height="23.81" fill="#fffafa"/>
<rect x="949.64" y="856.24" width="23.38" height="23.81" fill="#f2f2ff"/>
<rect x="972.42" y="856.24" width="23.38" height="23.81" fill="#fff2f2"/>
<rect x="995.20" y="856.24" width="23.38" height="23.81" fill="#ffffff"/>
<rect x="1017.98" y="856.24" width="23.38" height="23.81" fill="#d6d6ff"/>
<rect x="1040.76" y="856.24" width="46.16" height="23.81" fill="#f2f2ff"/>
<rect x="1086.32" y="856.24" width="22.78" height="23.81" fill="#fff7f7"/>
<rect x="197.90" y="879.44" width="23.38" height="23.81" fill="#ffe6e6"/>
<rect x="220.68" y="879.44" width="23.38" height="23.81" fill="#ffb2b2"/>
<rect x="243.46" y="879.44" width="23.38" height="23.81" fill="#ffe6e6"/>
<rect x="266.24" y="879.44" width="23.38" height="23.81" fill="#ffd1d1"/>
<rect x="289.02" y="879.44" width="23.38" height="23.81" fill="#f5f5ff"/>
<rect x="311.80" y="879.44" width="23.38" height="23.81" fill="#fafaff"/>
<rect x="334.58" y="879.44" width="23.38" height="23.81" fill="#fffcfc"/>
<rect x="357.36" y="879.44" width="23.38" height="23.81" fill="#e0e0ff"/>
<rect x="380.14" y="879.44" width="23.38" height="23.81" fill="#e6e6ff"/>
<rect x="402.92" y="879.44" width="23.38" height="23.81" fill="#dedeff"/>
<rect x="425.70" y="879.44" width="46.16" height="23.81" fill="#f7f7ff"/>
<rect x="471.26" y="879.44" width="46.16" height="23.81" fill="#ebebff"/>
<rect x="516.82" y="879.44" width="23.38" height="23.81" fill="#fffcfc"/>
<rect x="539.60" y="879.44" width="23.38" height="23.81" fill="#fff5f5"/>
<rect x="562.38" y="879.44" width="23.38" height="23.81" fill="#f0f0ff"/>
<rect x="585.16" y="879.44" width="23.38" height="23.81" fill="#fff0f0"/>
<rect x="607.94" y="879.44" width="23.38" height="23.81" fill="#ffc7c7"/>
<rect x="630.72" y="879.44" width="23.38" height="23.81" fill="#ffc4c4"/>
<rect x="653.50" y="879.44" width="23.38" height="23.81" fill="#ffcccc"/>
<rect x="676.28" y="879.44" width="23.38" height="23.81" fill="#ffadad"/>
<rect x="699.06" y="879.44" width="46.16" height="23.81" fill="#ffbfbf"/>
<rect x="744.62" y="879.44" width="23.38" height="23.81" fill="#ffcccc"/>
<rect x="767.40" y="879.44" width="23.38" height="23.81" fill="#ffabab"/>
<rect x="790.18" y="879.44" width="23.38" height="23.81" fill="#ff8c8c"/>
<rect x="812.96" y="879.44" width="23.38" height="23.81" fill="#ff9494"/>
<rect x="835.74" y="879.44" width="23.38" height="23.81" fill="#ff0000"/>
<rect x="858.52" y="879.44" width="23.38" height="23.81" fill="#ff3333"/>
<rect x="881.30" y="879.44" width="23.38" height="23.81" fill="#ff5e5e"/>
<rect x="904.08" y="879.44" width="23.38" height="23.81" fill="#fff0f0"/>
<rect x="926.86" y="879.44" width="23.38" height="23.81" fill="#fff5f5"/>
<rect x="949.64" y="879.44" width="23.38" height="23.81" fill="#ffffff"/>
<rect x="972.42" y="879.44" width="23.38" height="23.81" fill="#e0e0ff"/>
<rect x="995.20" y="879.44" width="23.38" height="23.81" fill="#fff2f2"/>
<rect x="1017.98" y="879.44" width="23.38" height="23.81" fill="#f0f0ff"/>
<rect x="1040.76" y="879.44" width="23.38" height="23.81" fill="#f2f2ff"/>
<rect x="1063.54" y="879.44" width="23.38" height="23.81" fill="#f0f0ff"/>
<rect x="1086.32" y="879.44" width="22.78" height="23.81" fill="#fff0f0"/>
<rect x="197.90" y="902.64" width="23.38" height="23.81" fill="#ffebeb"/>
<rect x="220.68" y="902.64" width="68.94" height="23.81" fill="#ffcccc"/>
<rect x="289.02" y="902.64" width="23.38" height="23.81" fill="#e6e6ff"/>
<rect x="311.80" y="902.64" width="23.38" height="23.81" fill="#e8e8ff"/>
<rect x="334.58" y="902.64" width="23.38" height="23.81" fill="#fff2f2"/>
<rect x="357.36" y="902.64" width="23.38" height="23.81" fill="#e0e0ff"/>
<rect x="380.14" y="902.64" width="23.38" height="23.81" fill="#dbdbff"/>
<rect x="402.92" y="902.64" width="23.38" height="23.81" fill="#c4c4ff"/>
<rect x="425.70" y="902.64" width="46.16" height="23.81" fill="#d6d6ff"/>
<rect x="471.26" y="902.64" width="23.38" height="23.81" fill="#e0e0ff"/>
<rect x="494.04" y="902.64" width="23.38" height="23.81" fill="#ebebff"/>
<rect x="516.82" y="902.64" width="23.38" height="23.81" fill="#fafaff"/>
<rect x="539.60" y="902.64" width="23.38" height="23.81" fill="#ebebff"/>
<rect x="562.38" y="902.64" width="23.38" height="23.81" fill="#d6d6ff"/>
<rect x="585.16" y="902.64" width="23.38" height="23.81" fill="#ffebeb"/>
<rect x="607.94" y="902.64" width="23.38" height="23.81" fill="#ffc7c7"/>
<rect x="630.72" y="902.64" width="23.38" height="23.81" fill="#ffcccc"/>
<rect x="653.50" y="902.64" width="23.38" height="23.81" fill="#ffe6e6"/>
<rect x="676.28" y="902.64" width="23.38" height="23.81" fill="#ffadad"/>
<rect x="699.06" y="902.64" width="23.38" height="23.81" fill="#ffbaba"/>
<rect x="721.84" y="902.64" width="23.38" height="23.81" fill="#ffbfbf"/>
<rect x="744.62" y="902.64" width="23.38" height="23.81" fill="#ffb2b2"/>
<rect x="767.40" y="902.64" width="23.38" height="23.81" fill="#ffabab"/>
<rect x="790.18" y="902.64" width="23.38" height="23.81" fill="#ffd1d1"/>
<rect x="812.96" y="902.64" width="23.38" height="23.81" fill="#ff4545"/>
<rect x="835.74" y="902.64" width="23.38" height="23.81" fill="#ff3333"/>
<rect x="858.52" y="902.64" width="23.38" height="23.81" fill="#ff0000"/>
<rect x="881.30" y="902.64" width="23.38" height="23.81" fill="#ff2626"/>
<rect x="904.08" y="902.64" width="23.38" height="23.81" fill="#ffc4c4"/>
<rect x="926.86" y="902.64" width="23.38" height="23.81" fill="#ebebff"/>
<rect x="949.64" y="902.64" width="23.38" height="23.81" fill="#fff2f2"/>
<rect x="972.42" y="902.64" width="23.38" height="23.81" fill="#f2f2ff"/>
<rect x="995.20" y="902.64" width="23.38" height="23.81" fill="#fafaff"/>
<rect x="1017.98" y="902.64" width="23.38" height="23.81" fill="#c7c7ff"/>
<rect x="1040.76" y="902.64" width="23.38" height="23.81" fill="#d4d4ff"/>
<rect x="1063.54" y="902.64" width="23.38" height="23.81" fill="#ebebff"/>
<rect x="1086.32" y="902.64" width="22.78" height="23.81" fill="#ffffff"/>
<rect x="197.90" y="925.85" width="23.38" height="23.81" fill="#ffc7c7"/>
<rect x="220.68" y="925.85" width="23.38" height="23.81" fill="#ffb8b8"/>
<rect x="243.46" y="925.85" width="23.38" height="23.81" fill="#ff8080"/>
<rect x="266.24" y="925.85" width="23.38" height="23.81" fill="#ff9999"/>
<rect x="289.02" y="925.85" width="23.38" height="23.81" fill="#d9d9ff"/>
<rect x="311.80" y="925.85" width="23.38" height="23.81" fill="#e6e6ff"/>
<rect x="334.58" y="925.85" width="23.38" height="23.81" fill="#f7f7ff"/>
<rect x="357.36" y="925.85" width="23.38" height="23.81" fill="#dedeff"/>
<rect x="380.14" y="925.85" width="23.38" height="23.81" fill="#dbdbff"/>
<rect x="402.92" y="925.85" width="23.38" height="23.81" fill="#bdbdff"/>
<rect x="425.70" y="925.85" width="23.38" height="23.81" fill="#ccccff"/>
<rect x="448.48" y="925.85" width="23.38" height="23.81" fill="#c7c7ff"/>
<rect x="471.26" y="925.85" width="23.38" height="23.81" fill="#d9d9ff"/>
<rect x="494.04" y="925.85" width="23.38" height="23.81" fill="#d6d6ff"/>
<rect x="516.82" y="925.85" width="23.38" height="23.81" fill="#f5f5ff"/>
<rect x="539.60" y="925.85" width="23.38" height="23.81" fill="#ebebff"/>
<rect x="562.38" y="925.85" width="23.38" height="23.81" fill="#d4d4ff"/>
<rect x="585.16" y="925.85" width="23.38" height="23.81" fill="#fffafa"/>
<rect x="607.94" y="925.85" width="23.38" height="23.81" fill="#ffe6e6"/>
<rect x="630.72" y="925.85" width="23.38" height="23.81" fill="#ffd6d6"/>
<rect x="653.50" y="925.85" width="23.38" height="23.81" fill="#ffffff"/>
<rect x="676.28" y="925.85" width="23.38" height="23.81" fill="#ffbaba"/>
<rect x="699.06" y="925.85" width="23.38" height="23.81" fill="#ffc4c4"/>
<rect x="721.84" y="925.85" width="23.38" height="23.81" fill="#ffb2b2"/>
<rect x="744.62" y="925.85" width="23.38" height="23.81" fill="#ff8585"/>
<rect x="767.40" y="925.85" width="23.38" height="23.81" fill="#ff8787"/>
<rect x="790.18" y="925.85" width="23.38" height="23.81" fill="#ffcccc"/>
<rect x="812.96" y="925.85" width="23.38" height="23.81" fill="#ff8080"/>
<rect x="835.74" y="925.85" width="23.38" height="23.81" fill="#ff5e5e"/>
<rect x="858.52" y="925.85" width="23.38" height="23.81" fill="#ff2626"/>
<rect x="881.30" y="925.85" width="23.38" height="23.81" fill="#ff0000"/>
<rect x="904.08" y="925.85" width="23.38" height="23.81" fill="#ffdede"/>
<rect x="926.86" y="925.85" width="46.16" height="23.81" fill="#fcfcff"/>
<rect x="972.42" y="925.85" width="23.38" height="23.81" fill="#fff0f0"/>
<rect x="995.20" y="925.85" width="23.38" height="23.81" fill="#d9d9ff"/>
<rect x="1017.98" y="925.85" width="23.38" height="23.81" fill="#b5b5ff"/>
<rect x="1040.76" y="925.85" width="23.38" height="23.81" fill="#e6e6ff"/>
<rect x="1063.54" y="925.85" width="23.38" height="23.81" fill="#ffffff"/>
<rect x="1086.32" y="925.85" width="22.78" height="23.81" fill="#fff2f2"/>
<rect x="197.90" y="949.06" width="23.38" height="23.81" fill="#ffe0e0"/>
<rect x="220.68" y="949.06" width="23.38" height="23.81" fill="#ffeded"/>
<rect x="243.46" y="949.06" width="23.38" height="23.81" fill="#ffffff"/>
<rect x="266.24" y="949.06" width="23.38" height="23.81" fill="#ffeded"/>
<rect x="289.02" y="949.06" width="23.38" height="23.81" fill="#f7f7ff"/>
<rect x="311.80" y="949.06" width="23.38" height="23.81" fill="#f0f0ff"/>
<rect x="334.58" y="949.06" width="23.38" height="23.81" fill="#fcfcff"/>
<rect x="357.36" y="949.06" width="23.38" height="23.81" fill="#f0f0ff"/>
<rect x="380.14" y="949.06" width="23.38" height="23.81" fill="#f5f5ff"/>
<rect x="402.92" y="949.06" width="23.38" height="23.81" fill="#e6e6ff"/>
<rect x="425.70" y="949.06" width="46.16" height="23.81" fill="#e8e8ff"/>
<rect x="471.26" y="949.06" width="46.16" height="23.81" fill="#f0f0ff"/>
<rect x="516.82" y="949.06" width="23.38" height="23.81" fill="#f7f7ff"/>
<rect x="539.60" y="949.06" width="23.38" height="23.81" fill="#ebebff"/>
<rect x="562.38" y="949.06" width="23.38" height="23.81" fill="#f5f5ff"/>
<rect x="585.16" y="949.06" width="23.38" height="23.81" fill="#ffe6e6"/>
<rect x="607.94" y="949.06" width="23.38" height="23.81" fill="#ffbfbf"/>
<rect x="630.72" y="949.06" width="23.38" height="23.81" fill="#e3e3ff"/>
<rect x="653.50" y="949.06" width="23.38" height="23.81" fill="#e0e0ff"/>
<rect x="676.28" y="949.06" width="46.16" height="23.81" fill="#fff2f2"/>
<rect x="721.84" y="949.06" width="23.38" height="23.81" fill="#ffffff"/>
<rect x="744.62" y="949.06" width="23.38" height="23.81" fill="#ffe6e6"/>
<rect x="767.40" y="949.06" width="23.38" height="23.81" fill="#f7f7ff"/>
<rect x="790.18" y="949.06" width="23.38" height="23.81" fill="#fff5f5"/>
<rect x="812.96" y="949.06" width="23.38" height="23.81" fill="#ffabab"/>
<rect x="835.74" y="949.06" width="23.38" height="23.81" fill="#fff0f0"/>
<rect x="858.52" y="949.06" width="23.38" height="23.81" fill="#ffc4c4"/>
<rect x="881.30" y="949.06" width="23.38" height="23.81" fill="#ffdede"/>
<rect x="904.08" y="949.06" width="23.38" height="23.81" fill="#ff0000"/>
<rect x="926.86" y="949.06" width="23.38" height="23.81" fill="#ffffff"/>
<rect x="949.64" y="949.06" width="23.38" height="23.81" fill="#f5f5ff"/>
<rect x="972.42" y="949.06" width="23.38" height="23.81" fill="#ffbaba"/>
<rect x="995.20" y="949.06" width="23.38" height="23.81" fill="#ffebeb"/>
<rect x="1017.98" y="949.06" width="23.38" height="23.81" fill="#e6e6ff"/>
<rect x="1040.76" y="949.06" width="23.38" height="23.81" fill="#e3e3ff"/>
<rect x="1063.54" y="949.06" width="23.38" height="23.81" fill="#fff0f0"/>
<rect x="1086.32" y="949.06" width="22.78" height="23.81" fill="#d9d9ff"/>
<rect x="197.90" y="972.26" width="23.38" height="23.81" fill="#ffebeb"/>
<rect x="220.68" y="972.26" width="23.38" height="23.81" fill="#ffe8e8"/>
<rect x="243.46" y="972.26" width="23.38" height="23.81" fill="#ffd4d4"/>
<rect x="266.24" y="972.26" width="23.38" height="23.81" fill="#ffd1d1"/>
<rect x="289.02" y="972.26" width="23.38" height="23.81" fill="#fffcfc"/>
<rect x="311.80" y="972.26" width="23.38" height="23.81" fill="#f0f0ff"/>
<rect x="334.58" y="972.26" width="23.38" height="23.81" fill="#ffdbdb"/>
<rect x="357.36" y="972.26" width="23.38" height="23.81" fill="#f5f5ff"/>
<rect x="380.14" y="972.26" width="23.38" height="23.81" fill="#f0f0ff"/>
<rect x="402.92" y="972.26" width="46.16" height="23.81" fill="#fff7f7"/>
<rect x="448.48" y="972.26" width="23.38" height="23.81" fill="#ffffff"/>
<rect x="471.26" y="972.26" width="23.38" height="23.81" fill="#f5f5ff"/>
<rect x="494.04" y="972.26" width="23.38" height="23.81" fill="#ededff"/>
<rect x="516.82" y="972.26" width="23.38" height="23.81" fill="#f0f0ff"/>
<rect x="539.60" y="972.26" width="23.38" height="23.81" fill="#fff0f0"/>
<rect x="562.38" y="972.26" width="23.38" height="23.81" fill="#fcfcff"/>
<rect x="585.16" y="972.26" width="23.38" height="23.81" fill="#ffebeb"/>
<rect x="607.94" y="972.26" width="23.38" height="23.81" fill="#ffc9c9"/>
<rect x="630.72" y="972.26" width="23.38" height="23.81" fill="#e6e6ff"/>
<rect x="653.50" y="972.26" width="23.38" height="23.81" fill="#ffe6e6"/>
<rect x="676.28" y="972.26" width="23.38" height="23.81" fill="#ffe0e0"/>
<rect x="699.06" y="972.26" width="23.38" height="23.81" fill="#ffc7c7"/>
<rect x="721.84" y="972.26" width="23.38" height="23.81" fill="#ffe0e0"/>
<rect x="744.62" y="972.26" width="23.38" height="23.81" fill="#fffafa"/>
<rect x="767.40" y="972.26" width="23.38" height="23.81" fill="#ffbfbf"/>
<rect x="790.18" y="972.26" width="23.38" height="23.81" fill="#f2f2ff"/>
<rect x="812.96" y="972.26" width="23.38" height="23.81" fill="#fffafa"/>
<rect x="835.74" y="972.26" width="23.38" height="23.81" fill="#fff5f5"/>
<rect x="858.52" y="972.26" width="23.38" height="23.81" fill="#ebebff"/>
<rect x="881.30" y="972.26" width="23.38" height="23.81" fill="#fcfcff"/>
<rect x="904.08" y="972.26" width="23.38" height="23.81" fill="#ffffff"/>
<rect x="926.86" y="972.26" width="23.38" height="23.81" fill="#ff0000"/>
<rect x="949.64" y="972.26" width="23.38" height="23.81" fill="#ffe8e8"/>
<rect x="972.42" y="972.26" width="23.38" height="23.81" fill="#ffd9d9"/>
<rect x="995.20" y="972.26" width="23.38" height="23.81" fill="#ffe8e8"/>
<rect x="1017.98" y="972.26" width="23.38" height="23.81" fill="#f0f0ff"/>
<rect x="1040.76" y="972.26" width="23.38" height="23.81" fill="#ffd6d6"/>
<rect x="1063.54" y="972.26" width="23.38" height="23.81" fill="#ffebeb"/>
<rect x="1086.32" y="972.26" width="22.78" height="23.81" fill="#ffbfbf"/>
<rect x="197.90" y="995.47" width="23.38" height="23.81" fill="#fffcfc"/>
<rect x="220.68" y="995.47" width="68.94" height="23.81" fill="#ffffff"/>
<rect x="289.02" y="995.47" width="23.38" height="23.81" fill="#fff0f0"/>
<rect x="311.80" y="995.47" width="23.38" height="23.81" fill="#ebebff"/>
<rect x="334.58" y="995.47" width="23.38" height="23.81" fill="#ffe0e0"/>
<rect x="357.36" y="995.47" width="23.38" height="23.81" fill="#fafaff"/>
<rect x="380.14" y="995.47" width="23.38" height="23.81" fill="#ffffff"/>
<rect x="402.92" y="995.47" width="23.38" height="23.81" fill="#f2f2ff"/>
<rect x="425.70" y="995.47" width="23.38" height="23.81" fill="#ffcfcf"/>
<rect x="448.48" y="995.47" width="23.38" height="23.81" fill="#ededff"/>
<rect x="471.26" y="995.47" width="23.38" height="23.81" fill="#ebebff"/>
<rect x="494.04" y="995.47" width="23.38" height="23.81" fill="#fcfcff"/>
<rect x="516.82" y="995.47" width="23.38" height="23.81" fill="#e3e3ff"/>
<rect x="539.60" y="995.47" width="23.38" height="23.81" fill="#fafaff"/>
<rect x="562.38" y="995.47" width="23.38" height="23.81" fill="#ffebeb"/>
<rect x="585.16" y="995.47" width="23.38" height="23.81" fill="#ff9191"/>
<rect x="607.94" y="995.47" width="23.38" height="23.81" fill="#fff0f0"/>
<rect x="630.72" y="995.47" width="23.38" height="23.81" fill="#f2f2ff"/>
<rect x="653.50" y="995.47" width="23.38" height="23.81" fill="#fffcfc"/>
<rect x="676.28" y="995.47" width="46.16" height="23.81" fill="#fffafa"/>
<rect x="721.84" y="995.47" width="23.38" height="23.81" fill="#f5f5ff"/>
<rect x="744.62" y="995.47" width="23.38" height="23.81" fill="#ffe0e0"/>
<rect x="767.40" y="995.47" width="23.38" height="23.81" fill="#ffe6e6"/>
<rect x="790.18" y="995.47" width="23.38" height="23.81" fill="#ffffff"/>
<rect x="812.96" y="995.47" width="23.38" height="23.81" fill="#f2f2ff"/>
<rect x="835.74" y="995.47" width="23.38" height="23.81" fill="#ffffff"/>
<rect x="858.52" y="995.47" width="23.38" height="23.81" fill="#fff2f2"/>
<rect x="881.30" y="995.47" width="23.38" height="23.81" fill="#fcfcff"/>
<rect x="904.08" y="995.47" width="23.38" height="23.81" fill="#f5f5ff"/>
<rect x="926.86" y="995.47" width="23.38" height="23.81" fill="#ffe8e8"/>
<rect x="949.64" y="995.47" width="23.38" height="23.81" fill="#ff0000"/>
<rect x="972.42" y="995.47" width="23.38" height="23.81" fill="#ffcccc"/>
<rect x="995.20" y="995.47" width="23.38" height="23.81" fill="#ffd1d1"/>
<rect x="1017.98" y="995.47" width="23.38" height="23.81" fill="#ffdede"/>
<rect x="1040.76" y="995.47" width="23.38" height="23.81" fill="#f0f0ff"/>
<rect x="1063.54" y="995.47" width="23.38" height="23.81" fill="#ffffff"/>
<rect x="1086.32" y="995.47" width="22.78" height="23.81" fill="#ffebeb"/>
<rect x="197.90" y="1018.67" width="23.38" height="23.81" fill="#ffcccc"/>
<rect x="220.68" y="1018.67" width="23.38" height="23.81" fill="#ffc7c7"/>
<rect x="243.46" y="1018.67" width="23.38" height="23.81" fill="#ffe0e0"/>
<rect x="266.24" y="1018.67" width="23.38" height="23.81" fill="#ffb8b8"/>
<rect x="289.02" y="1018.67" width="23.38" height="23.81" fill="#ffebeb"/>
<rect x="311.80" y="1018.67" width="23.38" height="23.81" fill="#d1d1ff"/>
<rect x="334.58" y="1018.67" width="23.38" height="23.81" fill="#e6e6ff"/>
<rect x="357.36" y="1018.67" width="23.38" height="23.81" fill="#d1d1ff"/>
<rect x="380.14" y="1018.67" width="46.16" height="23.81" fill="#dbdbff"/>
<rect x="425.70" y="1018.67" width="23.38" height="23.81" fill="#f5f5ff"/>
<rect x="448.48" y="1018.67" width="23.38" height="23.81" fill="#f2f2ff"/>
<rect x="471.26" y="1018.67" width="23.38" height="23.81" fill="#d6d6ff"/>
<rect x="494.04" y="1018.67" width="23.38" height="23.81" fill="#d9d9ff"/>
<rect x="516.82" y="1018.67" width="23.38" height="23.81" fill="#ffdbdb"/>
<rect x="539.60" y="1018.67" width="23.38" height="23.81" fill="#fafaff"/>
<rect x="562.38" y="1018.67" width="23.38" height="23.81" fill="#ffebeb"/>
<rect x="585.16" y="1018.67" width="23.38" height="23.81" fill="#ffa3a3"/>
<rect x="607.94" y="1018.67" width="23.38" height="23.81" fill="#ffdede"/>
<rect x="630.72" y="1018.67" width="23.38" height="23.81" fill="#ffc4c4"/>
<rect x="653.50" y="1018.67" width="23.38" height="23.81" fill="#ffebeb"/>
<rect x="676.28" y="1018.67" width="46.16" height="23.81" fill="#ffbfbf"/>
<rect x="721.84" y="1018.67" width="23.38" height="23.81" fill="#ffd1d1"/>
<rect x="744.62" y="1018.67" width="23.38" height="23.81" fill="#ff8c8c"/>
<rect x="767.40" y="1018.67" width="23.38" height="23.81" fill="#ffadad"/>
<rect x="790.18" y="1018.67" width="23.38" height="23.81" fill="#f2f2ff"/>
<rect x="812.96" y="1018.67" width="23.38" height="23.81" fill="#fff2f2"/>
<rect x="835.74" y="1018.67" width="23.38" height="23.81" fill="#e0e0ff"/>
<rect x="858.52" y="1018.67" width="23.38" height="23.81" fill="#f2f2ff"/>
<rect x="881.30" y="1018.67" width="23.38" height="23.81" fill="#fff0f0"/>
<rect x="904.08" y="1018.67" width="23.38" height="23.81" fill="#ffbaba"/>
<rect x="926.86" y="1018.67" width="23.38" height="23.81" fill="#ffd9d9"/>
<rect x="949.64" y="1018.67" width="23.38" height="23.81" fill="#ffcccc"/>
<rect x="972.42" y="1018.67" width="23.38" height="23.81" fill="#ff0000"/>
<rect x="995.20" y="1018.67" width="23.38" height="23.81" fill="#ffa6a6"/>
<rect x="1017.98" y="1018.67" width="23.38" height="23.81" fill="#fafaff"/>
<rect x="1040.76" y="1018.67" width="23.38" height="23.81" fill="#ffd4d4"/>
<rect x="1063.54" y="1018.67" width="23.38" height="23.81" fill="#ffbfbf"/>
<rect x="1086.32" y="1018.67" width="22.78" height="23.81" fill="#ffdede"/>
<rect x="197.90" y="1041.88" width="23.38" height="23.81" fill="#ffd4d4"/>
<rect x="220.68" y="1041.88" width="23.38" height="23.81" fill="#ffb2b2"/>
<rect x="243.46" y="1041.88" width="23.38" height="23.81" fill="#ebebff"/>
<rect x="266.24" y="1041.88" width="23.38" height="23.81" fill="#f2f2ff"/>
<rect x="289.02" y="1041.88" width="23.38" height="23.81" fill="#ffd9d9"/>
<rect x="311.80" y="1041.88" width="23.38" height="23.81" fill="#ffe6e6"/>
<rect x="334.58" y="1041.88" width="23.38" height="23.81" fill="#fcfcff"/>
<rect x="357.36" y="1041.88" width="23.38" height="23.81" fill="#fffcfc"/>
<rect x="380.14" y="1041.88" width="23.38" height="23.81" fill="#fffafa"/>
<rect x="402.92" y="1041.88" width="23.38" height="23.81" fill="#fff2f2"/>
<rect x="425.70" y="1041.88" width="23.38" height="23.81" fill="#ffe3e3"/>
<rect x="448.48" y="1041.88" width="23.38" height="23.81" fill="#fffcfc"/>
<rect x="471.26" y="1041.88" width="23.38" height="23.81" fill="#ffeded"/>
<rect x="494.04" y="1041.88" width="23.38" height="23.81" fill="#fff0f0"/>
<rect x="516.82" y="1041.88" width="23.38" height="23.81" fill="#fffcfc"/>
<rect x="539.60" y="1041.88" width="23.38" height="23.81" fill="#ffffff"/>
<rect x="562.38" y="1041.88" width="23.38" height="23.81" fill="#ffebeb"/>
<rect x="585.16" y="1041.88" width="46.16" height="23.81" fill="#ffbfbf"/>
<rect x="630.72" y="1041.88" width="23.38" height="23.81" fill="#ffe0e0"/>
<rect x="653.50" y="1041.88" width="23.38" height="23.81" fill="#ffebeb"/>
<rect x="676.28" y="1041.88" width="23.38" height="23.81" fill="#ffd4d4"/>
<rect x="699.06" y="1041.88" width="23.38" height="23.81" fill="#ffe0e0"/>
<rect x="721.84" y="1041.88" width="23.38" height="23.81" fill="#fff5f5"/>
<rect x="744.62" y="1041.88" width="23.38" height="23.81" fill="#ffd9d9"/>
<rect x="767.40" y="1041.88" width="23.38" height="23.81" fill="#e6e6ff"/>
<rect x="790.18" y="1041.88" width="23.38" height="23.81" fill="#ebebff"/>
<rect x="812.96" y="1041.88" width="23.38" height="23.81" fill="#ffffff"/>
<rect x="835.74" y="1041.88" width="23.38" height="23.81" fill="#fff2f2"/>
<rect x="858.52" y="1041.88" width="23.38" height="23.81" fill="#fafaff"/>
<rect x="881.30" y="1041.88" width="23.38" height="23.81" fill="#d9d9ff"/>
<rect x="904.08" y="1041.88" width="23.38" height="23.81" fill="#ffebeb"/>
<rect x="926.86" y="1041.88" width="23.38" height="23.81" fill="#ffe8e8"/>
<rect x="949.64" y="1041.88" width="23.38" height="23.81" fill="#ffd1d1"/>
<rect x="972.42" y="1041.88" width="23.38" height="23.81" fill="#ffa6a6"/>
<rect x="995.20" y="1041.88" width="23.38" height="23.81" fill="#ff0000"/>
<rect x="1017.98" y="1041.88" width="23.38" height="23.81" fill="#ffcfcf"/>
<rect x="1040.76" y="1041.88" width="23.38" height="23.81" fill="#fffcfc"/>
<rect x="1063.54" y="1041.88" width="23.38" height="23.81" fill="#ffffff"/>
<rect x="1086.32" y="1041.88" width="22.78" height="23.81" fill="#fff5f5"/>
<rect x="197.90" y="1065.08" width="23.38" height="23.81" fill="#fff5f5"/>
<rect x="220.68" y="1065.08" width="23.38" height="23.81" fill="#ffd4d4"/>
<rect x="243.46" y="1065.08" width="23.38" height="23.81" fill="#ebebff"/>
<rect x="266.24" y="1065.08" width="23.38" height="23.81" fill="#ffcccc"/>
<rect x="289.02" y="1065.08" width="23.38" height="23.81" fill="#ffe6e6"/>
<rect x="311.80" y="1065.08" width="23.38" height="23.81" fill="#e8e8ff"/>
<rect x="334.58" y="1065.08" width="23.38" height="23.81" fill="#ffe8e8"/>
<rect x="357.36" y="1065.08" width="23.38" height="23.81" fill="#ffd9d9"/>
<rect x="380.14" y="1065.08" width="23.38" height="23.81" fill="#ffdede"/>
<rect x="402.92" y="1065.08" width="23.38" height="23.81" fill="#ff9e9e"/>
<rect x="425.70" y="1065.08" width="23.38" height="23.81" fill="#ff9696"/>
<rect x="448.48" y="1065.08" width="23.38" height="23.81" fill="#ffe0e0"/>
<rect x="471.26" y="1065.08" width="23.38" height="23.81" fill="#ffebeb"/>
<rect x="494.04" y="1065.08" width="23.38" height="23.81" fill="#ffcfcf"/>
<rect x="516.82" y="1065.08" width="23.38" height="23.81" fill="#f5f5ff"/>
<rect x="539.60" y="1065.08" width="46.16" height="23.81" fill="#fff0f0"/>
<rect x="585.16" y="1065.08" width="23.38" height="23.81" fill="#ffa1a1"/>
<rect x="607.94" y="1065.08" width="23.38" height="23.81" fill="#fcfcff"/>
<rect x="630.72" y="1065.08" width="23.38" height="23.81" fill="#ffd9d9"/>
<rect x="653.50" y="1065.08" width="23.38" height="23.81" fill="#fff5f5"/>
<rect x="676.28" y="1065.08" width="23.38" height="23.81" fill="#e8e8ff"/>
<rect x="699.06" y="1065.08" width="23.38" height="23.81" fill="#d6d6ff"/>
<rect x="721.84" y="1065.08" width="23.38" height="23.81" fill="#e0e0ff"/>
<rect x="744.62" y="1065.08" width="46.16" height="23.81" fill="#ffffff"/>
<rect x="790.18" y="1065.08" width="23.38" height="23.81" fill="#f0f0ff"/>
<rect x="812.96" y="1065.08" width="23.38" height="23.81" fill="#d6d6ff"/>
<rect x="835.74" y="1065.08" width="23.38" height="23.81" fill="#f0f0ff"/>
<rect x="858.52" y="1065.08" width="23.38" height="23.81" fill="#c7c7ff"/>
<rect x="881.30" y="1065.08" width="23.38" height="23.81" fill="#b5b5ff"/>
<rect x="904.08" y="1065.08" width="23.38" height="23.81" fill="#e6e6ff"/>
<rect x="926.86" y="1065.08" width="23.38" height="23.81" fill="#f0f0ff"/>
<rect x="949.64" y="1065.08" width="23.38" height="23.81" fill="#ffdede"/>
<rect x="972.42" y="1065.08" width="23.38" height="23.81" fill="#fafaff"/>
<rect x="995.20" y="1065.08" width="23.38" height="23.81" fill="#ffcfcf"/>
<rect x="1017.98" y="1065.08" width="23.38" height="23.81" fill="#ff0000"/>
<rect x="1040.76" y="1065.08" width="23.38" height="23.81" fill="#fff5f5"/>
<rect x="1063.54" y="1065.08" width="23.38" height="23.81" fill="#ededff"/>
<rect x="1086.32" y="1065.08" width="22.78" height="23.81" fill="#ffc7c7"/>
<rect x="197.90" y="1088.29" width="23.38" height="23.81" fill="#fff5f5"/>
<rect x="220.68" y="1088.29" width="23.38" height="23.81" fill="#ffffff"/>
<rect x="243.46" y="1088.29" width="23.38" height="23.81" fill="#fffafa"/>
<rect x="266.24" y="1088.29" width="23.38" height="23.81" fill="#ffbaba"/>
<rect x="289.02" y="1088.29" width="23.38" height="23.81" fill="#ffcccc"/>
<rect x="311.80" y="1088.29" width="23.38" height="23.81" fill="#fff2f2"/>
<rect x="334.58" y="1088.29" width="23.38" height="23.81" fill="#ffeded"/>
<rect x="357.36" y="1088.29" width="23.38" height="23.81" fill="#ffebeb"/>
<rect x="380.14" y="1088.29" width="23.38" height="23.81" fill="#fffafa"/>
<rect x="402.92" y="1088.29" width="23.38" height="23.81" fill="#ffbaba"/>
<rect x="425.70" y="1088.29" width="23.38" height="23.81" fill="#ffd6d6"/>
<rect x="448.48" y="1088.29" width="46.16" height="23.81" fill="#ffc4c4"/>
<rect x="494.04" y="1088.29" width="23.38" height="23.81" fill="#ffd6d6"/>
<rect x="516.82" y="1088.29" width="23.38" height="23.81" fill="#ffb0b0"/>
<rect x="539.60" y="1088.29" width="23.38" height="23.81" fill="#ffc9c9"/>
<rect x="562.38" y="1088.29" width="23.38" height="23.81" fill="#ffb8b8"/>
<rect x="585.16" y="1088.29" width="23.38" height="23.81" fill="#ffe6e6"/>
<rect x="607.94" y="1088.29" width="23.38" height="23.81" fill="#ffc9c9"/>
<rect x="630.72" y="1088.29" width="23.38" height="23.81" fill="#ffe8e8"/>
<rect x="653.50" y="1088.29" width="23.38" height="23.81" fill="#ffd9d9"/>
<rect x="676.28" y="1088.29" width="23.38" height="23.81" fill="#ffe0e0"/>
<rect x="699.06" y="1088.29" width="23.38" height="23.81" fill="#ffdbdb"/>
<rect x="721.84" y="1088.29" width="23.38" height="23.81" fill="#fff0f0"/>
<rect x="744.62" y="1088.29" width="23.38" height="23.81" fill="#f2f2ff"/>
<rect x="767.40" y="1088.29" width="23.38" height="23.81" fill="#ffbfbf"/>
<rect x="790.18" y="1088.29" width="23.38" height="23.81" fill="#ffdede"/>
<rect x="812.96" y="1088.29" width="46.16" height="23.81" fill="#f2f2ff"/>
<rect x="858.52" y="1088.29" width="23.38" height="23.81" fill="#d4d4ff"/>
<rect x="881.30" y="1088.29" width="23.38" height="23.81" fill="#e6e6ff"/>
<rect x="904.08" y="1088.29" width="23.38" height="23.81" fill="#e3e3ff"/>
<rect x="926.86" y="1088.29" width="23.38" height="23.81" fill="#ffd6d6"/>
<rect x="949.64" y="1088.29" width="23.38" height="23.81" fill="#f0f0ff"/>
<rect x="972.42" y="1088.29" width="23.38" height="23.81" fill="#ffd4d4"/>
<rect x="995.20" y="1088.29" width="23.38" height="23.81" fill="#fffcfc"/>
<rect x="1017.98" y="1088.29" width="23.38" height="23.81" fill="#fff5f5"/>
<rect x="1040.76" y="1088.29" width="23.38" height="23.81" fill="#ff0000"/>
<rect x="1063.54" y="1088.29" width="23.38" height="23.81" fill="#ffd6d6"/>
<rect x="1086.32" y="1088.29" width="22.78" height="23.81" fill="#ffadad"/>
<rect x="197.90" y="1111.49" width="23.38" height="23.81" fill="#ffbfbf"/>
<rect x="220.68" y="1111.49" width="23.38" height="23.81" fill="#ffd4d4"/>
<rect x="243.46" y="1111.49" width="23.38" height="23.81" fill="#ffbfbf"/>
<rect x="266.24" y="1111.49" width="23.38" height="23.81" fill="#ffbaba"/>
<rect x="289.02" y="1111.49" width="23.38" height="23.81" fill="#ffe6e6"/>
<rect x="311.80" y="1111.49" width="23.38" height="23.81" fill="#fff0f0"/>
<rect x="334.58" y="1111.49" width="68.94" height="23.81" fill="#ffdede"/>
<rect x="402.92" y="1111.49" width="23.38" height="23.81" fill="#ffc4c4"/>
<rect x="425.70" y="1111.49" width="23.38" height="23.81" fill="#ffe0e0"/>
<rect x="448.48" y="1111.49" width="23.38" height="23.81" fill="#ffb8b8"/>
<rect x="471.26" y="1111.49" width="23.38" height="23.81" fill="#ffcccc"/>
<rect x="494.04" y="1111.49" width="23.38" height="23.81" fill="#ffd6d6"/>
<rect x="516.82" y="1111.49" width="23.38" height="23.81" fill="#ffcccc"/>
<rect x="539.60" y="1111.49" width="23.38" height="23.81" fill="#ffd6d6"/>
<rect x="562.38" y="1111.49" width="23.38" height="23.81" fill="#ffcccc"/>
<rect x="585.16" y="1111.49" width="23.38" height="23.81" fill="#ff9696"/>
<rect x="607.94" y="1111.49" width="23.38" height="23.81" fill="#ffd9d9"/>
<rect x="630.72" y="1111.49" width="23.38" height="23.81" fill="#ffdede"/>
<rect x="653.50" y="1111.49" width="23.38" height="23.81" fill="#ffd4d4"/>
<rect x="676.28" y="1111.49" width="23.38" height="23.81" fill="#ffcccc"/>
<rect x="699.06" y="1111.49" width="23.38" height="23.81" fill="#ffdbdb"/>
<rect x="721.84" y="1111.49" width="23.38" height="23.81" fill="#ffd9d9"/>
<rect x="744.62" y="1111.49" width="23.38" height="23.81" fill="#ffc4c4"/>
<rect x="767.40" y="1111.49" width="23.38" height="23.81" fill="#ff8787"/>
<rect x="790.18" y="1111.49" width="23.38" height="23.81" fill="#f0f0ff"/>
<rect x="812.96" y="1111.49" width="23.38" height="23.81" fill="#f2f2ff"/>
<rect x="835.74" y="1111.49" width="23.38" height="23.81" fill="#f0f0ff"/>
<rect x="858.52" y="1111.49" width="23.38" height="23.81" fill="#ebebff"/>
<rect x="881.30" y="1111.49" width="23.38" height="23.81" fill="#ffffff"/>
<rect x="904.08" y="1111.49" width="23.38" height="23.81" fill="#fff0f0"/>
<rect x="926.86" y="1111.49" width="23.38" height="23.81" fill="#ffebeb"/>
<rect x="949.64" y="1111.49" width="23.38" height="23.81" fill="#ffffff"/>
<rect x="972.42" y="1111.49" width="23.38" height="23.81" fill="#ffbfbf"/>
<rect x="995.20" y="1111.49" width="23.38" height="23.81" fill="#ffffff"/>
<rect x="1017.98" y="1111.49" width="23.38" height="23.81" fill="#ededff"/>
<rect x="1040.76" y="1111.49" width="23.38" height="23.81" fill="#ffd6d6"/>
<rect x="1063.54" y="1111.49" width="23.38" height="23.81" fill="#ff0000"/>
<rect x="1086.32" y="1111.49" width="22.78" height="23.81" fill="#ff9999"/>
<rect x="197.90" y="1134.70" width="23.38" height="23.21" fill="#ffcccc"/>
<rect x="220.68" y="1134.70" width="23.38" height="23.21" fill="#ff9e9e"/>
<rect x="243.46" y="1134.70" width="23.38" height="23.21" fill="#ffbfbf"/>
<rect x="266.24" y="1134.70" width="23.38" height="23.21" fill="#ff6666"/>
<rect x="289.02" y="1134.70" width="23.38" height="23.21" fill="#ffcccc"/>
<rect x="311.80" y="1134.70" width="23.38" height="23.21" fill="#fff7f7"/>
<rect x="334.58" y="1134.70" width="23.38" height="23.21" fill="#ffe0e0"/>
<rect x="357.36" y="1134.70" width="23.38" height="23.21" fill="#ffb2b2"/>
<rect x="380.14" y="1134.70" width="23.38" height="23.21" fill="#ffdede"/>
<rect x="402.92" y="1134.70" width="23.38" height="23.21" fill="#ff8080"/>
<rect x="425.70" y="1134.70" width="23.38" height="23.21" fill="#ffc2c2"/>
<rect x="448.48" y="1134.70" width="23.38" height="23.21" fill="#ffb5b5"/>
<rect x="471.26" y="1134.70" width="23.38" height="23.21" fill="#ffbaba"/>
<rect x="494.04" y="1134.70" width="23.38" height="23.21" fill="#ffa3a3"/>
<rect x="516.82" y="1134.70" width="23.38" height="23.21" fill="#ffeded"/>
<rect x="539.60" y="1134.70" width="23.38" height="23.21" fill="#ffc2c2"/>
<rect x="562.38" y="1134.70" width="23.38" height="23.21" fill="#ffcccc"/>
<rect x="585.16" y="1134.70" width="23.38" height="23.21" fill="#ffabab"/>
<rect x="607.94" y="1134.70" width="23.38" height="23.21" fill="#ffcccc"/>
<rect x="630.72" y="1134.70" width="23.38" height="23.21" fill="#ffdbdb"/>
<rect x="653.50" y="1134.70" width="23.38" height="23.21" fill="#ffadad"/>
<rect x="676.28" y="1134.70" width="46.16" height="23.21" fill="#ffe0e0"/>
<rect x="721.84" y="1134.70" width="23.38" height="23.21" fill="#ffd4d4"/>
<rect x="744.62" y="1134.70" width="23.38" height="23.21" fill="#ffeded"/>
<rect x="767.40" y="1134.70" width="23.38" height="23.21" fill="#ff9e9e"/>
<rect x="790.18" y="1134.70" width="23.38" height="23.21" fill="#dbdbff"/>
<rect x="812.96" y="1134.70" width="23.38" height="23.21" fill="#fff7f7"/>
<rect x="835.74" y="1134.70" width="23.38" height="23.21" fill="#fff0f0"/>
<rect x="858.52" y="1134.70" width="23.38" height="23.21" fill="#ffffff"/>
<rect x="881.30" y="1134.70" width="23.38" height="23.21" fill="#fff2f2"/>
<rect x="904.08" y="1134.70" width="23.38" height="23.21" fill="#d9d9ff"/>
<rect x="926.86" y="1134.70" width="23.38" height="23.21" fill="#ffbfbf"/>
<rect x="949.64" y="1134.70" width="23.38" height="23.21" fill="#ffebeb"/>
<rect x="972.42" y="1134.70" width="23.38" height="23.21" fill="#ffdede"/>
<rect x="995.20" y="1134.70" width="23.38" height="23.21" fill="#fff5f5"/>
<rect x="1017.98" y="1134.70" width="23.38" height="23.21" fill="#ffc7c7"/>
<rect x="1040.76" y="1134.70" width="23.38" height="23.21" fill="#ffadad"/>
<rect x="1063.54" y="1134.70" width="23.38" height="23.21" fill="#ff9999"/>
<rect x="1086.32" y="1134.70" width="22.78" height="23.21" fill="#ff0000"/>
</g>
<path d="M254.8 225.0L254.8 159.7M254.8 159.7L277.6 159.7M277.6 159.7L277.6 225.0M232.1 225.0L232.1 142.0M232.1 142.0L266.2 142.0M266.2 142.0L266.2 159.7M209.3 225.0L209.3 138.3M209.3 138.3L249.2 138.3M249.2 138.3L249.2 142.0M300.4 225.0L300.4 177.5M300.4 177.5L323.2 177.5M323.2 177.5L323.2 225.0M368.8 225.0L368.8 195.7M368.8 195.7L391.5 195.7M391.5 195.7L391.5 225.0M346.0 225.0L346.0 159.4M346.0 159.4L380.1 159.4M380.1 159.4L380.1 195.7M414.3 225.0L414.3 164.5M414.3 164.5L437.1 164.5M437.1 164.5L437.1 225.0M482.6 225.0L482.6 177.2M482.6 177.2L505.4 177.2M505.4 177.2L505.4 225.0M459.9 225.0L459.9 164.0M459.9 164.0L494.0 164.0M494.0 164.0L494.0 177.2M425.7 164.5L425.7 155.4M425.7 155.4L477.0 155.4M477.0 155.4L477.0 164.0M363.1 159.4L363.1 145.6M363.1 145.6L451.3 145.6M451.3 145.6L451.3 155.4M311.8 177.5L311.8 131.4M311.8 131.4L407.2 131.4M407.2 131.4L407.2 145.6M551.0 225.0L551.0 149.6M551.0 149.6L573.8 149.6M573.8 149.6L573.8 225.0M528.2 225.0L528.2 140.5M528.2 140.5L562.4 140.5M562.4 140.5L562.4 149.6M596.5 225.0L596.5 122.4M596.5 122.4L619.3 122.4M619.3 122.4L619.3 225.0M545.3 140.5L545.3 116.2M545.3 116.2L607.9 116.2M607.9 116.2L607.9 122.4M359.5 131.4L359.5 99.1M359.5 99.1L576.6 99.1M576.6 99.1L576.6 116.2M229.2 138.3L229.2 82.0M229.2 82.0L468.1 82.0M468.1 82.0L468.1 99.1M642.1 225.0L642.1 128.2M642.1 128.2L664.9 128.2M664.9 128.2L664.9 225.0M687.7 225.0L687.7 180.4M687.7 180.4L710.4 180.4M710.4 180.4L710.4 225.0M756.0 225.0L756.0 132.2M756.0 132.2L778.8 132.2M778.8 132.2L778.8 225.0M733.2 225.0L733.2 127.4M733.2 127.4L767.4 127.4M767.4 127.4L767.4 132.2M699.1 180.4L699.1 122.0M699.1 122.0L750.3 122.0M750.3 122.0L750.3 127.4M653.5 128.2L653.5 113.3M653.5 113.3L724.7 113.3M724.7 113.3L724.7 122.0M869.9 225.0L869.9 173.2M869.9 173.2L892.7 173.2M892.7 173.2L892.7 225.0M847.1 225.0L847.1 158.7M847.1 158.7L881.3 158.7M881.3 158.7L881.3 173.2M824.3 225.0L824.3 150.0M824.3 150.0L864.2 150.0M864.2 150.0L864.2 158.7M801.6 225.0L801.6 111.8M801.6 111.8L844.3 111.8M844.3 111.8L844.3 150.0M689.1 113.3L689.1 95.1M689.1 95.1L822.9 95.1M822.9 95.1L822.9 111.8M983.8 225.0L983.8 121.3M983.8 121.3L1006.6 121.3M1006.6 121.3L1006.6 225.0M961.0 225.0L961.0 113.6M961.0 113.6L995.2 113.6M995.2 113.6L995.2 121.3M938.2 225.0L938.2 108.2M938.2 108.2L978.1 108.2M978.1 108.2L978.1 113.6M915.5 225.0L915.5 102.0M915.5 102.0L958.2 102.0M958.2 102.0L958.2 108.2M1074.9 225.0L1074.9 134.0M1074.9 134.0L1097.7 134.0M1097.7 134.0L1097.7 225.0M1052.1 225.0L1052.1 119.5M1052.1 119.5L1086.3 119.5M1086.3 119.5L1086.3 134.0M1029.4 225.0L1029.4 92.6M1029.4 92.6L1069.2 92.6M1069.2 92.6L1069.2 119.5M936.8 102.0L936.8 88.6M936.8 88.6L1049.3 88.6M1049.3 88.6L1049.3 92.6M756.0 95.1L756.0 76.3M756.0 76.3L993.1 76.3M993.1 76.3L993.1 88.6M348.6 82.0L348.6 37.4M348.6 37.4L874.5 37.4M874.5 37.4L874.5 76.3" fill="none" stroke="#444" stroke-width="1.1" stroke-linecap="square"/>
<path d="M193.6 287.7L129.7 287.7M129.7 287.7L129.7 310.9M129.7 310.9L193.6 310.9M193.6 264.5L112.4 264.5M112.4 264.5L112.4 299.3M112.4 299.3L129.7 299.3M193.6 241.3L108.7 241.3M108.7 241.3L108.7 281.9M108.7 281.9L112.4 281.9M193.6 334.1L147.1 334.1M147.1 334.1L147.1 357.3M147.1 357.3L193.6 357.3M193.6 403.7L164.9 403.7M164.9 403.7L164.9 426.9M164.9 426.9L193.6 426.9M193.6 380.5L129.4 380.5M129.4 380.5L129.4 415.3M129.4 415.3L164.9 415.3M193.6 450.1L134.4 450.1M134.4 450.1L134.4 473.4M134.4 473.4L193.6 473.4M193.6 519.8L146.8 519.8M146.8 519.8L146.8 543.0M146.8 543.0L193.6 543.0M193.6 496.6L133.9 496.6M133.9 496.6L133.9 531.4M133.9 531.4L146.8 531.4M134.4 461.8L125.5 461.8M125.5 461.8L125.5 514.0M125.5 514.0L133.9 514.0M129.4 397.9L115.9 397.9M115.9 397.9L115.9 487.9M115.9 487.9L125.5 487.9M147.1 345.7L102.0 345.7M102.0 345.7L102.0 442.9M102.0 442.9L115.9 442.9M193.6 589.4L119.8 589.4M119.8 589.4L119.8 612.6M119.8 612.6L193.6 612.6M193.6 566.2L110.9 566.2M110.9 566.2L110.9 601.0M110.9 601.0L119.8 601.0M193.6 635.8L93.2 635.8M93.2 635.8L93.2 659.0M93.2 659.0L193.6 659.0M110.9 583.6L87.1 583.6M87.1 583.6L87.1 647.4M87.1 647.4L93.2 647.4M102.0 394.3L70.4 394.3M70.4 394.3L70.4 615.5M70.4 615.5L87.1 615.5M108.7 261.6L53.6 261.6M53.6 261.6L53.6 504.9M53.6 504.9L70.4 504.9M193.6 682.2L98.9 682.2M98.9 682.2L98.9 705.4M98.9 705.4L193.6 705.4M193.6 728.6L150.0 728.6M150.0 728.6L150.0 751.8M150.0 751.8L193.6 751.8M193.6 798.2L102.8 798.2M102.8 798.2L102.8 821.4M102.8 821.4L193.6 821.4M193.6 775.0L98.1 775.0M98.1 775.0L98.1 809.8M98.1 809.8L102.8 809.8M150.0 740.2L92.8 740.2M92.8 740.2L92.8 792.4M92.8 792.4L98.1 792.4M98.9 693.8L84.3 693.8M84.3 693.8L84.3 766.3M84.3 766.3L92.8 766.3M193.6 914.2L142.9 914.2M142.9 914.2L142.9 937.5M142.9 937.5L193.6 937.5M193.6 891.0L128.7 891.0M128.7 891.0L128.7 925.9M128.7 925.9L142.9 925.9M193.6 867.8L120.2 867.8M120.2 867.8L120.2 908.4M120.2 908.4L128.7 908.4M193.6 844.6L82.8 844.6M82.8 844.6L82.8 888.1M82.8 888.1L120.2 888.1M84.3 730.1L66.5 730.1M66.5 730.1L66.5 866.4M66.5 866.4L82.8 866.4M193.6 1030.3L92.1 1030.3M92.1 1030.3L92.1 1053.5M92.1 1053.5L193.6 1053.5M193.6 1007.1L84.6 1007.1M84.6 1007.1L84.6 1041.9M84.6 1041.9L92.1 1041.9M193.6 983.9L79.3 983.9M79.3 983.9L79.3 1024.5M79.3 1024.5L84.6 1024.5M193.6 960.7L73.2 960.7M73.2 960.7L73.2 1004.2M73.2 1004.2L79.3 1004.2M193.6 1123.1L104.5 1123.1M104.5 1123.1L104.5 1146.3M104.5 1146.3L193.6 1146.3M193.6 1099.9L90.3 1099.9M90.3 1099.9L90.3 1134.7M90.3 1134.7L104.5 1134.7M193.6 1076.7L64.0 1076.7M64.0 1076.7L64.0 1117.3M64.0 1117.3L90.3 1117.3M73.2 982.4L60.1 982.4M60.1 982.4L60.1 1097.0M60.1 1097.0L64.0 1097.0M66.5 798.2L48.1 798.2M48.1 798.2L48.1 1039.7M48.1 1039.7L60.1 1039.7M53.6 383.3L10.0 383.3M10.0 383.3L10.0 919.0M10.0 919.0L48.1 919.0" fill="none" stroke="#444" stroke-width="1.1" stroke-linecap="square"/>
<g stroke="#1c1c1c" stroke-width="1.8">
<line x1="1109.6" x2="1119.3" y1="241.7" y2="241.7"/>
<line x1="1109.6" x2="1119.3" y1="264.9" y2="264.9"/>
<line x1="1109.6" x2="1119.3" y1="288.1" y2="288.1"/>
<line x1="1109.6" x2="1119.3" y1="311.3" y2="311.3"/>
<line x1="1109.6" x2="1119.3" y1="334.5" y2="334.5"/>
<line x1="1109.6" x2="1119.3" y1="357.7" y2="357.7"/>
<line x1="1109.6" x2="1119.3" y1="380.9" y2="380.9"/>
<line x1="1109.6" x2="1119.3" y1="404.1" y2="404.1"/>
<line x1="1109.6" x2="1119.3" y1="427.3" y2="427.3"/>
<line x1="1109.6" x2="1119.3" y1="450.5" y2="450.5"/>
<line x1="1109.6" x2="1119.3" y1="473.8" y2="473.8"/>
<line x1="1109.6" x2="1119.3" y1="497.0" y2="497.0"/>
<line x1="1109.6" x2="1119.3" y1="520.2" y2="520.2"/>
<line x1="1109.6" x2="1119.3" y1="543.4" y2="543.4"/>
<line x1="1109.6" x2="1119.3" y1="566.6" y2="566.6"/>
<line x1="1109.6" x2="1119.3" y1="589.8" y2="589.8"/>
<line x1="1109.6" x2="1119.3" y1="613.0" y2="613.0"/>
<line x1="1109.6" x2="1119.3" y1="636.2" y2="636.2"/>
<line x1="1109.6" x2="1119.3" y1="659.4" y2="659.4"/>
<line x1="1109.6" x2="1119.3" y1="682.6" y2="682.6"/>
<line x1="1109.6" x2="1119.3" y1="705.8" y2="705.8"/>
<line x1="1109.6" x2="1119.3" y1="729.0" y2="729.0"/>
<line x1="1109.6" x2="1119.3" y1="752.2" y2="752.2"/>
<line x1="1109.6" x2="1119.3" y1="775.4" y2="775.4"/>
<line x1="1109.6" x2="1119.3" y1="798.6" y2="798.6"/>
<line x1="1109.6" x2="1119.3" y1="821.8" y2="821.8"/>
<line x1="1109.6" x2="1119.3" y1="845.0" y2="845.0"/>
<line x1="1109.6" x2="1119.3" y1="868.2" y2="868.2"/>
<line x1="1109.6" x2="1119.3" y1="891.4" y2="891.4"/>
<line x1="1109.6" x2="1119.3" y1="914.6" y2="914.6"/>
<line x1="1109.6" x2="1119.3" y1="937.9" y2="937.9"/>
<line x1="1109.6" x2="1119.3" y1="961.1" y2="961.1"/>
<line x1="1109.6" x2="1119.3" y1="984.3" y2="984.3"/>
<line x1="1109.6" x2="1119.3" y1="1007.5" y2="1007.5"/>
<line x1="1109.6" x2="1119.3" y1="1030.7" y2="1030.7"/>
<line x1="1109.6" x2="1119.3" y1="1053.9" y2="1053.9"/>
<line x1="1109.6" x2="1119.3" y1="1077.1" y2="1077.1"/>
<line x1="1109.6" x2="1119.3" y1="1100.3" y2="1100.3"/>
<line x1="1109.6" x2="1119.3" y1="1123.5" y2="1123.5"/>
<line x1="1109.6" x2="1119.3" y1="1146.7" y2="1146.7"/>
</g>
<g font-size="19.9" letter-spacing="0.6">
<text x="1124.9" y="249.3">telephone</text>
<text x="1124.9" y="272.5">post_box</text>
<text x="1124.9" y="295.7">place_of_worship</text>
<text x="1124.9" y="318.9">pub</text>
<text x="1124.9" y="342.1">grass</text>
<text x="1124.9" y="365.3">university</text>
<text x="1124.9" y="388.5">commercial</text>
<text x="1124.9" y="411.7">cafe</text>
<text x="1124.9" y="434.9">clothes</text>
<text x="1124.9" y="458.1">fast_food</text>
<text x="1124.9" y="481.4">retail</text>
<text x="1124.9" y="504.6">bicycle_parking</text>
<text x="1124.9" y="527.8">entrance</text>
<text x="1124.9" y="551.0">restaurant</text>
<text x="1124.9" y="574.2">garden</text>
<text x="1124.9" y="597.4">terrace</text>
<text x="1124.9" y="620.6">apartments</text>
<text x="1124.9" y="643.8">parking</text>
<text x="1124.9" y="667.0">bench</text>
<text x="1124.9" y="690.2">school</text>
<text x="1124.9" y="713.4">soccer</text>
<text x="1124.9" y="736.6">pitch</text>
<text x="1124.9" y="759.8">tennis</text>
<text x="1124.9" y="783.0">recreation_ground</text>
<text x="1124.9" y="806.2">residential</text>
<text x="1124.9" y="829.4">allotments</text>
<text x="1124.9" y="852.6">farm</text>
<text x="1124.9" y="875.8">forest</text>
<text x="1124.9" y="899.0">meadow</text>
<text x="1124.9" y="922.2">farmland</text>
<text x="1124.9" y="945.5">farmyard</text>
<text x="1124.9" y="968.7">reservoir</text>
<text x="1124.9" y="991.9">recycling</text>
<text x="1124.9" y="1015.1">industrial</text>
<text x="1124.9" y="1038.3">playground</text>
<text x="1124.9" y="1061.5">park</text>
<text x="1124.9" y="1084.7">supermarket</text>
<text x="1124.9" y="1107.9">house</text>
<text x="1124.9" y="1131.1">garage</text>
<text x="1124.9" y="1154.3">convenience</text>
</g>
<g font-size="19.9" letter-spacing="0.6" text-anchor="end">
<text transform="translate(214.5,1174.3) rotate(-90)">telephone</text>
<text transform="translate(237.3,1174.3) rotate(-90)">post_box</text>
<text transform="translate(260.1,1174.3) rotate(-90)">place_of_worship</text>
<text transform="translate(282.8,1174.3) rotate(-90)">pub</text>
<text transform="translate(305.6,1174.3) rotate(-90)">grass</text>
<text transform="translate(328.4,1174.3) rotate(-90)">university</text>
<text transform="translate(351.2,1174.3) rotate(-90)">commercial</text>
<text transform="translate(373.9,1174.3) rotate(-90)">cafe</text>
<text transform="translate(396.7,1174.3) rotate(-90)">clothes</text>
<text transform="translate(419.5,1174.3) rotate(-90)">fast_food</text>
<text transform="translate(442.3,1174.3) rotate(-90)">retail</text>
<text transform="translate(465.1,1174.3) rotate(-90)">bicycle_parking</text>
<text transform="translate(487.8,1174.3) rotate(-90)">entrance</text>
<text transform="translate(510.6,1174.3) rotate(-90)">restaurant</text>
<text transform="translate(533.4,1174.3) rotate(-90)">garden</text>
<text transform="translate(556.2,1174.3) rotate(-90)">terrace</text>
<text transform="translate(579.0,1174.3) rotate(-90)">apartments</text>
<text transform="translate(601.8,1174.3) rotate(-90)">parking</text>
<text transform="translate(624.5,1174.3) rotate(-90)">bench</text>
<text transform="translate(647.3,1174.3) rotate(-90)">school</text>
<text transform="translate(670.1,1174.3) rotate(-90)">soccer</text>
<text transform="translate(692.9,1174.3) rotate(-90)">pitch</text>
<text transform="translate(715.6,1174.3) rotate(-90)">tennis</text>
<text transform="translate(738.4,1174.3) rotate(-90)">recreation_ground</text>
<text transform="translate(761.2,1174.3) rotate(-90)">residential</text>
<text transform="translate(784.0,1174.3) rotate(-90)">allotments</text>
<text transform="translate(806.8,1174.3) rotate(-90)">farm</text>
<text transform="translate(829.5,1174.3) rotate(-90)">forest</text>
<text transform="translate(852.3,1174.3) rotate(-90)">meadow</text>
<text transform="translate(875.1,1174.3) rotate(-90)">farmland</text>
<text transform="translate(897.9,1174.3) rotate(-90)">farmyard</text>
<text transform="translate(920.7,1174.3) rotate(-90)">reservoir</text>
<text transform="translate(943.4,1174.3) rotate(-90)">recycling</text>
<text transform="translate(966.2,1174.3) rotate(-90)">industrial</text>
<text transform="translate(989.0,1174.3) rotate(-90)">playground</text>
<text transform="translate(1011.8,1174.3) rotate(-90)">park</text>
<text transform="translate(1034.6,1174.3) rotate(-90)">supermarket</text>
<text transform="translate(1057.3,1174.3) rotate(-90)">house</text>
<text transform="translate(1080.1,1174.3) rotate(-90)">garage</text>
<text transform="translate(1102.9,1174.3) rotate(-90)">convenience</text>
</g>
</svg></body></html>
